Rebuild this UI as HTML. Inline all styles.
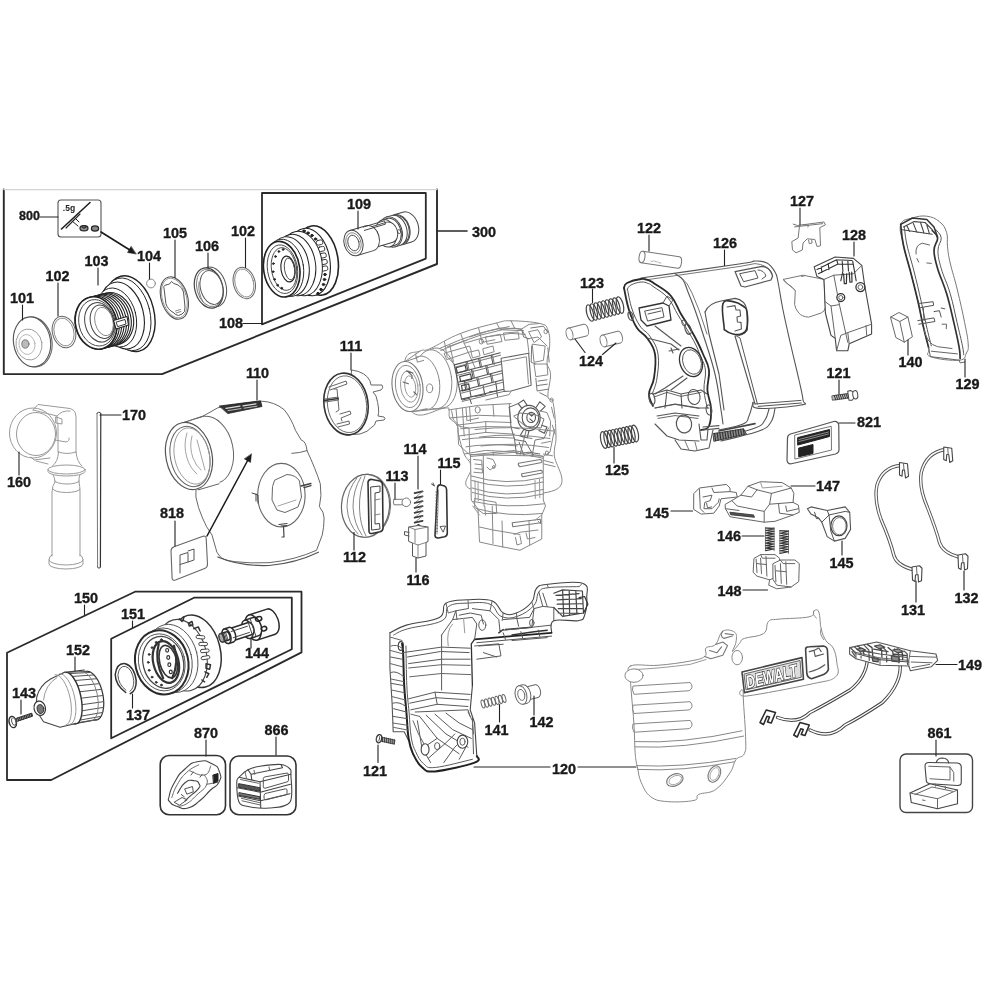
<!DOCTYPE html>
<html><head><meta charset="utf-8"><title>Parts diagram</title>
<style>
html,body{margin:0;padding:0;background:#fff;}
svg{display:block;}
text{font-family:"Liberation Sans",sans-serif;font-weight:bold;fill:#1a1a1a;text-anchor:middle;stroke:#1a1a1a;stroke-width:0.35px;}
path,line,ellipse,rect,circle,polyline,polygon{stroke-linecap:round;stroke-linejoin:round;}
</style></head><body>
<svg width="1000" height="1000" viewBox="0 0 1000 1000">
<defs><filter id="soft" x="0" y="0" width="1000" height="1000" filterUnits="userSpaceOnUse"><feGaussianBlur stdDeviation="0.45"/></filter></defs>
<rect x="0" y="0" width="1000" height="1000" fill="#fff" stroke="none"/>
<g filter="url(#soft)">
<path d="M3.8 189.5 L3.8 374.1 L162 374.1 L437 264 L437 189.5" stroke="#2a2a2a" stroke-width="1.9" fill="none" />
<line x1="3.8" y1="189.6" x2="437" y2="189.6" stroke="#d4d4d4" stroke-width="1.2"/>
<path d="M262 193 L425.8 193 L425.8 258.6 L262 324.4 Z" stroke="#2a2a2a" stroke-width="1.8" fill="none" />
<line x1="437" y1="231" x2="467" y2="231" stroke="#2a2a2a" stroke-width="1.6"/>
<path d="M7 652.8 L135 591.7 L301.5 591.7 L301.5 652.4 L51.2 780 L7 780 Z" stroke="#2a2a2a" stroke-width="1.8" fill="none" />
<path d="M111.2 638.8 L194 597.7 L291.8 597.7 L291.8 649.2 L111.2 738.3 Z" stroke="#2a2a2a" stroke-width="1.8" fill="none" />
<rect x="160.2" y="755.5" width="65.3" height="59.2" rx="9" stroke="#333" stroke-width="1.6" fill="none" />
<rect x="230" y="756" width="66" height="58.7" rx="9" stroke="#333" stroke-width="1.6" fill="none" />
<rect x="900" y="754" width="72.5" height="58.5" rx="6" stroke="#444" stroke-width="1.4" fill="none" />
<rect x="58" y="200" width="43" height="37" rx="3" stroke="#555" stroke-width="1.1" fill="none" />
<text x="69" y="211" font-size="8.5" style="fill:#222;stroke:none">.5g</text>
<line x1="61.5" y1="229" x2="90" y2="202.5" stroke="#222" stroke-width="1.6"/>
<line x1="66" y1="228" x2="80" y2="214" stroke="#222" stroke-width="1.1"/>
<line x1="72" y1="221" x2="78" y2="226" stroke="#222" stroke-width="1"/>
<line x1="75" y1="218" x2="79" y2="222" stroke="#222" stroke-width="1"/>
<ellipse cx="84" cy="228.3" rx="4" ry="2.6" stroke="#222" stroke-width="1.2" fill="#999"/>
<ellipse cx="84" cy="226.8" rx="2.2" ry="1.4" stroke="#222" stroke-width="1" fill="#666"/>
<ellipse cx="95" cy="228.5" rx="3.6" ry="2.6" stroke="#222" stroke-width="1.2" fill="#888"/>
<ellipse cx="33.5" cy="342" rx="18.5" ry="25" stroke="#666" stroke-width="1.1" fill="#fff" transform="rotate(-9 33.5 342)"/>
<ellipse cx="32" cy="341.8" rx="18.5" ry="25" stroke="#555" stroke-width="1.1" fill="#fff" transform="rotate(-9 32 341.8)"/>
<ellipse cx="29" cy="344.5" rx="13" ry="15.5" stroke="#999" stroke-width="0.9" fill="none" transform="rotate(-9 29 344.5)"/>
<ellipse cx="27" cy="344.5" rx="8" ry="10" stroke="#aaa" stroke-width="0.8" fill="none" transform="rotate(-9 27 344.5)"/>
<ellipse cx="25.4" cy="344" rx="3.6" ry="4.2" stroke="#666" stroke-width="0.8" fill="#bbb"/>
<ellipse cx="64" cy="332" rx="11.5" ry="16" stroke="#666" stroke-width="1" fill="none" transform="rotate(-15 64 332)"/>
<ellipse cx="64" cy="332" rx="9.8" ry="14.2" stroke="#888" stroke-width="0.9" fill="none" transform="rotate(-15 64 332)"/>
<ellipse cx="130" cy="313.7" rx="24" ry="38.6" stroke="#222" stroke-width="1.4" fill="#fff" transform="rotate(-14 130 313.7)"/>
<ellipse cx="127" cy="314.3" rx="23" ry="37" stroke="#222" stroke-width="0.9" fill="#fff" transform="rotate(-14 127 314.3)"/>
<ellipse cx="122" cy="315.5" rx="21.5" ry="34" stroke="#222" stroke-width="1.1" fill="#fff" transform="rotate(-14 122 315.5)"/>
<ellipse cx="116" cy="317.5" rx="20" ry="30" stroke="#222" stroke-width="0.9" fill="#fff" transform="rotate(-14 116 317.5)"/>
<ellipse cx="112.8" cy="318.66" rx="20.5" ry="26.5" stroke="#222" stroke-width="1.1" fill="#fff" transform="rotate(-14 112.8 318.66)"/>
<ellipse cx="110.4" cy="319.28" rx="20.5" ry="26.5" stroke="#222" stroke-width="1.1" fill="#fff" transform="rotate(-14 110.4 319.28)"/>
<ellipse cx="108.0" cy="319.9" rx="20.5" ry="26.5" stroke="#222" stroke-width="1.1" fill="#fff" transform="rotate(-14 108.0 319.9)"/>
<ellipse cx="105.6" cy="320.52" rx="20.5" ry="26.5" stroke="#222" stroke-width="1.1" fill="#fff" transform="rotate(-14 105.6 320.52)"/>
<ellipse cx="103.2" cy="321.14" rx="20.5" ry="26.5" stroke="#222" stroke-width="1.1" fill="#fff" transform="rotate(-14 103.2 321.14)"/>
<ellipse cx="100.8" cy="321.76" rx="20.5" ry="26.5" stroke="#222" stroke-width="1.1" fill="#fff" transform="rotate(-14 100.8 321.76)"/>
<ellipse cx="98.4" cy="322.38" rx="20.5" ry="26.5" stroke="#222" stroke-width="1.1" fill="#fff" transform="rotate(-14 98.4 322.38)"/>
<ellipse cx="96.0" cy="323.0" rx="20.5" ry="26.5" stroke="#222" stroke-width="1.1" fill="#fff" transform="rotate(-14 96.0 323.0)"/>
<ellipse cx="96" cy="323" rx="20.5" ry="26.5" stroke="#222" stroke-width="1.7" fill="#fff" transform="rotate(-14 96 323)"/>
<ellipse cx="97" cy="322.8" rx="18" ry="23.5" stroke="#444" stroke-width="0.9" fill="none" transform="rotate(-14 97 322.8)"/>
<ellipse cx="99.5" cy="322.3" rx="14.5" ry="20" stroke="#444" stroke-width="1" fill="none" transform="rotate(-14 99.5 322.3)"/>
<ellipse cx="102" cy="321.8" rx="11.5" ry="17" stroke="#444" stroke-width="1" fill="none" transform="rotate(-14 102 321.8)"/>
<ellipse cx="104" cy="321.5" rx="9" ry="14.5" stroke="#777" stroke-width="0.8" fill="none" transform="rotate(-14 104 321.5)"/>
<path d="M113.5 320.5 L127 316.5 L128.5 325 L116 329 Z" stroke="#222" stroke-width="1.1" fill="#fff" />
<path d="M116.5 322 L125 319.5 L126 324 L118 326.5 Z" stroke="#222" stroke-width="0.9" fill="#fff" />
<ellipse cx="151" cy="283.5" rx="4.4" ry="4.4" stroke="#888" stroke-width="1" fill="none"/>
<ellipse cx="174.4" cy="298" rx="13.2" ry="21.8" stroke="#555" stroke-width="1.1" fill="#fff" transform="rotate(-17 174.4 298)"/>
<ellipse cx="174.4" cy="298" rx="12" ry="20.4" stroke="#888" stroke-width="0.8" fill="none" transform="rotate(-17 174.4 298)"/>
<path d="M164 288.5 Q163 285.5 166 285 L169.5 284 L171.5 281.5 L173.8 283.5 L178 285 Q182.5 287.5 183.5 292 L185 307 Q185.5 312.5 182 314 L178.5 315.5 L175.5 314.5 L174 313 Q167.5 309.5 166 304 Z" stroke="#555" stroke-width="1" fill="none" />
<path d="M175.5 311 L180.5 309.5 M176 313 L181 311.5" stroke="#666" stroke-width="0.8" fill="none" />
<ellipse cx="212.5" cy="287" rx="13.6" ry="20.3" stroke="#555" stroke-width="1" fill="#fff" transform="rotate(-15 212.5 287)"/>
<ellipse cx="208.8" cy="288" rx="14" ry="20.5" stroke="#444" stroke-width="1.2" fill="#fff" transform="rotate(-15 208.8 288)"/>
<ellipse cx="209.5" cy="288" rx="12.6" ry="19" stroke="#777" stroke-width="0.9" fill="none" transform="rotate(-15 209.5 288)"/>
<ellipse cx="211.5" cy="287.5" rx="11" ry="17.2" stroke="#555" stroke-width="1" fill="#fff" transform="rotate(-15 211.5 287.5)"/>
<path d="M199 282 Q197.5 292 203 302" stroke="#777" stroke-width="0.9" fill="none" />
<ellipse cx="244.3" cy="283" rx="10.8" ry="16" stroke="#666" stroke-width="1" fill="none" transform="rotate(-15 244.3 283)"/>
<ellipse cx="244.3" cy="283" rx="9.2" ry="14.4" stroke="#888" stroke-width="0.9" fill="none" transform="rotate(-15 244.3 283)"/>
<g transform="translate(-2 4.5)">
<ellipse cx="319" cy="256" rx="21" ry="35" stroke="#222" stroke-width="1.6" fill="#fff" transform="rotate(-9 319 256)"/>
<ellipse cx="311" cy="257.5" rx="21" ry="34" stroke="#222" stroke-width="1.1" fill="#fff" transform="rotate(-9 311 257.5)"/>
<rect x="318.3" y="235.7" width="6.4" height="4.6" rx="1.6" transform="rotate(-12 321.5 238)" stroke="#333" stroke-width="0.9" fill="#fff"/>
<rect x="320.3" y="242.2" width="6.4" height="4.6" rx="1.6" transform="rotate(-12 323.5 244.5)" stroke="#333" stroke-width="0.9" fill="#fff"/>
<rect x="321.8" y="248.7" width="6.4" height="4.6" rx="1.6" transform="rotate(-12 325 251)" stroke="#333" stroke-width="0.9" fill="#fff"/>
<rect x="322.8" y="255.2" width="6.4" height="4.6" rx="1.6" transform="rotate(-12 326 257.5)" stroke="#333" stroke-width="0.9" fill="#fff"/>
<rect x="323.3" y="261.7" width="6.4" height="4.6" rx="1.6" transform="rotate(-12 326.5 264)" stroke="#333" stroke-width="0.9" fill="#fff"/>
<ellipse cx="306" cy="226.5" rx="1.3" ry="1.1" stroke="#222" stroke-width="1" fill="#222"/>
<ellipse cx="310" cy="228.5" rx="1.3" ry="1.1" stroke="#222" stroke-width="1" fill="#222"/>
<ellipse cx="314" cy="231" rx="1.3" ry="1.1" stroke="#222" stroke-width="1" fill="#222"/>
<ellipse cx="317.5" cy="234.5" rx="1.3" ry="1.1" stroke="#222" stroke-width="1" fill="#222"/>
<ellipse cx="327" cy="270" rx="1.3" ry="1.1" stroke="#222" stroke-width="1" fill="#222"/>
<ellipse cx="326.5" cy="275" rx="1.3" ry="1.1" stroke="#222" stroke-width="1" fill="#222"/>
<ellipse cx="325.5" cy="280" rx="1.3" ry="1.1" stroke="#222" stroke-width="1" fill="#222"/>
<ellipse cx="323" cy="285" rx="1.3" ry="1.1" stroke="#222" stroke-width="1" fill="#222"/>
<ellipse cx="320" cy="289" rx="1.3" ry="1.1" stroke="#222" stroke-width="1" fill="#222"/>
<ellipse cx="303" cy="259" rx="21" ry="32.5" stroke="#222" stroke-width="1" fill="#fff" transform="rotate(-9 303 259)"/>
<ellipse cx="297" cy="260.5" rx="20.5" ry="31" stroke="#222" stroke-width="1" fill="#fff" transform="rotate(-9 297 260.5)"/>
<ellipse cx="291" cy="262" rx="20" ry="30" stroke="#222" stroke-width="1" fill="#fff" transform="rotate(-9 291 262)"/>
<ellipse cx="286.5" cy="263.5" rx="19" ry="29" stroke="#222" stroke-width="0.9" fill="#fff" transform="rotate(-9 286.5 263.5)"/>
<ellipse cx="283.7" cy="264.7" rx="18" ry="28" stroke="#222" stroke-width="1.6" fill="#fff" transform="rotate(-9 283.7 264.7)"/>
<ellipse cx="284.5" cy="264.7" rx="15" ry="24.5" stroke="#444" stroke-width="0.9" fill="none" transform="rotate(-9 284.5 264.7)"/>
<ellipse cx="286" cy="264.5" rx="12.5" ry="21.5" stroke="#444" stroke-width="0.9" fill="none" transform="rotate(-9 286 264.5)"/>
<ellipse cx="290" cy="264.5" rx="7" ry="13" stroke="#222" stroke-width="1.1" fill="#fff" transform="rotate(-9 290 264.5)"/>
<ellipse cx="291.5" cy="264.5" rx="5" ry="11" stroke="#444" stroke-width="0.9" fill="none" transform="rotate(-9 291.5 264.5)"/>
<ellipse cx="283.7" cy="283.7" rx="0.9" ry="0.9" stroke="#222" stroke-width="0.8" fill="#222"/>
<ellipse cx="279.6" cy="280.7" rx="0.9" ry="0.9" stroke="#222" stroke-width="0.8" fill="#222"/>
<ellipse cx="276.6" cy="274.8" rx="0.9" ry="0.9" stroke="#222" stroke-width="0.8" fill="#222"/>
<ellipse cx="275.1" cy="267.2" rx="0.9" ry="0.9" stroke="#222" stroke-width="0.8" fill="#222"/>
<ellipse cx="275.4" cy="259.1" rx="0.9" ry="0.9" stroke="#222" stroke-width="0.8" fill="#222"/>
<ellipse cx="277.5" cy="252.0" rx="0.9" ry="0.9" stroke="#222" stroke-width="0.8" fill="#222"/>
<ellipse cx="280.9" cy="247.0" rx="0.9" ry="0.9" stroke="#222" stroke-width="0.8" fill="#222"/>
<ellipse cx="285.1" cy="245.0" rx="0.9" ry="0.9" stroke="#222" stroke-width="0.8" fill="#222"/>
</g>
<g transform="translate(353.5 243) rotate(-16.5)">
<path d="M47 -15.5 L56 -15.5 A11.16 15.5 0 0 1 56 15.5 L47 15.5 Z" stroke="#444" stroke-width="1" fill="#fff"/>
<ellipse cx="47" cy="0" rx="11.16" ry="15.5" stroke="#444" stroke-width="1" fill="#fff"/>
<path d="M44 -14.5 L47 -14.5 A10.44 14.5 0 0 1 47 14.5 L44 14.5 Z" stroke="#444" stroke-width="1" fill="#fff"/>
<ellipse cx="44" cy="0" rx="10.44" ry="14.5" stroke="#444" stroke-width="1" fill="#fff"/>
<path d="M39 -15.5 L44 -15.5 A11.16 15.5 0 0 1 44 15.5 L39 15.5 Z" stroke="#444" stroke-width="1" fill="#fff"/>
<ellipse cx="39" cy="0" rx="11.16" ry="15.5" stroke="#444" stroke-width="1" fill="#fff"/>
<path d="M34 -14 L39 -14 A10.08 14 0 0 1 39 14 L34 14 Z" stroke="#444" stroke-width="1" fill="#fff"/>
<ellipse cx="34" cy="0" rx="10.08" ry="14" stroke="#444" stroke-width="1" fill="#fff"/>
<path d="M15 -10.5 L38 -10.5 A7.56 10.5 0 0 1 38 10.5 L15 10.5 Z" stroke="#444" stroke-width="1" fill="#fff"/>
<ellipse cx="15" cy="0" rx="7.56" ry="10.5" stroke="#444" stroke-width="1" fill="#fff"/>
<path d="M0 -13 L17 -13 A9.36 13 0 0 1 17 13 L0 13 Z" stroke="#444" stroke-width="1" fill="#fff"/>
<ellipse cx="0" cy="0" rx="9.36" ry="13" stroke="#444" stroke-width="1" fill="#fff"/>
</g>
<g transform="translate(353.5 243) rotate(-16.5)">
<ellipse cx="0" cy="0" rx="5.5" ry="8" stroke="#444" stroke-width="0.9" fill="none"/>
<ellipse cx="0" cy="0" rx="7.5" ry="10.5" stroke="#777" stroke-width="0.8" fill="none"/>
<path d="M14 -12.5 L36 -12.5 L36 -9 L14 -9" stroke="#444" stroke-width="0.9" fill="none" />
<ellipse cx="47" cy="2" rx="1.5" ry="2" stroke="#444" stroke-width="0.8" fill="none"/>
</g>
<ellipse cx="33" cy="433" rx="23.5" ry="25" stroke="#999" stroke-width="1" fill="none"/>
<ellipse cx="36" cy="434" rx="19.5" ry="21.5" stroke="#999" stroke-width="1" fill="none"/>
<path d="M33 410 L38 404.5 L66 408 Q76 408 76 417 L76 452" stroke="#999" stroke-width="1" fill="none" />
<path d="M33 410 L57 416 L57 423" stroke="#999" stroke-width="1" fill="none" />
<path d="M57 416 Q62 410 70 411" stroke="#999" stroke-width="1" fill="none" />
<path d="M56 417 L62 419 L62 424 L56 423 Z" stroke="#999" stroke-width="1" fill="none" />
<line x1="58" y1="424" x2="58" y2="452" stroke="#999" stroke-width="1"/>
<path d="M55 440 L66 442 Q70 441 69 438" stroke="#999" stroke-width="1" fill="none" />
<path d="M31 457 L34 460 L50 458" stroke="#999" stroke-width="1" fill="none" />
<path d="M36 461 L48 464" stroke="#999" stroke-width="1" fill="none" />
<path d="M58.5 452 Q58 462 52.5 466 M76 452 Q77 462 82 466" stroke="#999" stroke-width="1" fill="none" />
<path d="M58.5 452 Q67 455 76 452" stroke="#999" stroke-width="1" fill="none" />
<ellipse cx="66.5" cy="469.5" rx="18.5" ry="4.5" stroke="#999" stroke-width="1" fill="none"/>
<path d="M48 469.5 L48 471.5 A18.5 4.5 0 0 0 85 471.5 L85 469.5" stroke="#999" stroke-width="1" fill="none" />
<path d="M53 474.5 Q55 478 55 482 M80 474.5 Q78.5 478 79 482" stroke="#999" stroke-width="1" fill="none" />
<path d="M55 481 A12 3 0 0 0 79 481" stroke="#999" stroke-width="1" fill="none" />
<path d="M55 482 Q52 486 52 492 L52 556 M79 482 Q80 486 80 492 L80 556" stroke="#999" stroke-width="1" fill="none" />
<path d="M53 489 A13.5 3.5 0 0 0 80 489" stroke="#999" stroke-width="1" fill="none" />
<path d="M52 555 Q49 556 49 560 L49 564 A17 5 0 0 0 83 564 L83 560 Q83 556 80 555" stroke="#999" stroke-width="1" fill="none" />
<path d="M49 560 A17 5 0 0 0 83 560" stroke="#999" stroke-width="1" fill="none" />
<path d="M97 413.5 Q97 412.3 98.8 412.3 Q100.8 412.3 100.8 413.5" stroke="#444" stroke-width="1" fill="none" />
<line x1="97" y1="413.5" x2="97.6" y2="567" stroke="#666" stroke-width="0.9"/>
<line x1="100.8" y1="413.5" x2="100.4" y2="567" stroke="#333" stroke-width="1.2"/>
<path d="M97.6 567 Q99 570 100.4 567" stroke="#444" stroke-width="1" fill="none" />
<path d="M204.4 415.4 L217.7 407.8 Q240 403 261.4 401.2 Q274 401.5 284.2 409.7 Q291 418 295.6 430.6 L301.3 440.1 Q306 441 307 450.6 Q316 470 320.3 483.8 Q322 496 319.4 506.6 Q324 512 324.1 518 Q324 528 322.2 535.1 L316.5 550.3 Q295 560 269 562.7 Q250 563.5 234.8 561.7 Q222 560 219.6 556 Q216 552 215.8 548.4 L212 535.1 Q206 527 202.5 518 Q198 508 195.9 497.1 L196 488 Z" stroke="#666" stroke-width="1" fill="#fff" />
<path d="M291.8 453.4 Q300 453 307 450.6" stroke="#666" stroke-width="1" fill="none" />
<path d="M217.7 557 Q240 566.5 269 565.5 Q296 563 318.4 552.2" stroke="#555" stroke-width="1.2" fill="none" />
<path d="M219.6 406 L260.5 400.8 L262 406.5 L228 413.5 Z" stroke="#222" stroke-width="0.8" fill="#333" />
<path d="M226 408.3 L240 406.2 M243 405.8 L256 403.8" stroke="#ddd" stroke-width="1.2" fill="none" />
<path d="M228 410.6 L241 408.6 M244 408.2 L257 406.2" stroke="#bbb" stroke-width="1" fill="none" />
<path d="M182 423 L204 416 M198 489.5 L219 483.5" stroke="#666" stroke-width="1" fill="none" />
<ellipse cx="210" cy="450" rx="23" ry="34" stroke="#666" stroke-width="1" fill="#fff" transform="rotate(-12 210 450)"/>
<path d="M183 423 L205 416.5 L220 484 L199 490 Z" fill="#fff" stroke="none"/>
<path d="M183.5 422.7 L204.4 415.6 M198.5 489.8 L219 483.8" stroke="#666" stroke-width="1" fill="none" />
<ellipse cx="189" cy="456" rx="23" ry="34" stroke="#555" stroke-width="1.2" fill="#fff" transform="rotate(-12 189 456)"/>
<ellipse cx="190" cy="456.5" rx="19.5" ry="30.5" stroke="#666" stroke-width="1" fill="none" transform="rotate(-12 190 456.5)"/>
<ellipse cx="192" cy="456" rx="17.5" ry="28.5" stroke="#999" stroke-width="0.9" fill="none" transform="rotate(-12 192 456)"/>
<path d="M187 433 Q183 445 187 458 Q190 468 197 474 M192 436 Q189 447 193 458 Q196 466 201 470 M197 440 L205 470" stroke="#999" stroke-width="0.9" fill="none" />
<ellipse cx="281.4" cy="495.2" rx="23.7" ry="31.8" stroke="#666" stroke-width="1.1" fill="#fff"/>
<path d="M275 480 L287 474.5 Q296 475 299.5 481 L301.5 497 L298 507 L285 512.5 L277 510 L272 500 L272.5 487 Z" stroke="#666" stroke-width="1" fill="none" />
<path d="M278 506 L296 500" stroke="#999" stroke-width="0.9" fill="none" />
<path d="M252 493 L258 495 L258 503 M256 494 L256 501" stroke="#444" stroke-width="1" fill="none" />
<path d="M301 486 L311 483.5 M304 487.5 L311 485.5" stroke="#444" stroke-width="1.3" fill="none" />
<path d="M279 524.5 L287 523.5 M281 526 L287 525.5 M283.5 526 L284 537 L282 537" stroke="#444" stroke-width="1.2" fill="none" />
<path d="M171 551 Q171 547.8 174 546.7 L203 536.3 Q206 535.4 206.2 538.5 L207.5 564.5 Q207.5 567.5 204.6 568.6 L175.5 580 Q172.2 581 172.1 578 Z" stroke="#666" stroke-width="1.1" fill="#fff" />
<path d="M180 573 L180 555 L188 552.5 L188 562 L194 560 L194 549 L188 551" stroke="#555" stroke-width="1" fill="none" />
<path d="M188 562 L180 564.5" stroke="#555" stroke-width="1" fill="none" />
<g transform="translate(385 310) scale(0.18000)">
<path d="M110.0 287.0 C119.0 219.6 167.0 242.4 195.0 228.0 C223.0 213.6 205.0 234.6 250.0 215.0 C295.0 195.4 346.0 158.6 420.0 130.0 C494.0 101.4 564.0 86.0 620.0 72.0 C676.0 58.0 652.0 59.4 700.0 60.0 C748.0 60.6 819.0 65.0 860.0 75.0 C901.0 85.0 894.0 85.0 905.0 110.0 C916.0 135.0 916.0 164.0 915.0 200.0 C914.0 236.0 899.0 258.0 900.0 290.0 C901.0 322.0 919.0 322.0 920.0 360.0 C921.0 398.0 902.0 448.0 905.0 480.0 C908.0 512.0 926.0 476.0 935.0 520.0 C944.0 564.0 949.0 644.0 950.0 700.0 C951.0 756.0 941.0 740.0 940.0 800.0 C939.0 860.0 1035.0 960.0 945.0 1000.0 C855.0 1040.0 583.0 1026.0 490.0 1000.0 C397.0 974.0 490.0 910.0 480.0 870.0 C470.0 830.0 454.0 834.0 440.0 800.0 C426.0 766.0 418.0 732.0 410.0 700.0 C402.0 668.0 410.0 660.0 400.0 640.0 C390.0 620.0 369.0 617.0 360.0 600.0 C351.0 583.0 361.0 566.0 355.0 555.0 C349.0 544.0 371.0 543.0 330.0 545.0 C289.0 547.0 194.0 616.6 150.0 565.0 C106.0 513.4 101.0 354.4 110.0 287.0 Z" stroke="#888" stroke-width="1" fill="#fff" vector-effect="non-scaling-stroke"/>
<ellipse cx="300" cy="378" rx="100" ry="168" stroke="#888" stroke-width="1" fill="#fff" vector-effect="non-scaling-stroke" transform="rotate(-8 300 378)"/>
<ellipse cx="270" cy="385" rx="100" ry="165" stroke="#888" stroke-width="1" fill="#fff" vector-effect="non-scaling-stroke" transform="rotate(-8 270 385)"/>
<path d="M195 228 L110 287 M330 545 L150 565" stroke="#888" stroke-width="1" fill="none" vector-effect="non-scaling-stroke"/>
<ellipse cx="215" cy="405" rx="88" ry="150" stroke="#888" stroke-width="1" fill="#fff" vector-effect="non-scaling-stroke" transform="rotate(-8 215 405)"/>
<path d="M112 287 L190 262 L230 545 L150 565 Z" stroke="none" stroke-width="1" fill="#fff" vector-effect="non-scaling-stroke"/>
<path d="M112 287 L185 262 M150 565 L235 548" stroke="#888" stroke-width="1" fill="none" vector-effect="non-scaling-stroke"/>
<ellipse cx="125" cy="425" rx="85" ry="140" stroke="#777" stroke-width="1.1" fill="#fff" vector-effect="non-scaling-stroke" transform="rotate(-8 125 425)"/>
<ellipse cx="127" cy="425" rx="68" ry="118" stroke="#888" stroke-width="1" fill="none" vector-effect="non-scaling-stroke" transform="rotate(-8 127 425)"/>
<ellipse cx="135" cy="425" rx="48" ry="88" stroke="#999" stroke-width="1" fill="none" vector-effect="non-scaling-stroke" transform="rotate(-8 135 425)"/>
<ellipse cx="140" cy="425" rx="30" ry="60" stroke="#999" stroke-width="1" fill="none" vector-effect="non-scaling-stroke" transform="rotate(-8 140 425)"/>
<path d="M130 345 L150 365 L150 380 M100 400 L130 410 M160 455 L175 470 M120 340 L155 350" stroke="#666" stroke-width="1.2" fill="none" vector-effect="non-scaling-stroke"/>
<ellipse cx="248" cy="435" rx="17" ry="24" stroke="#888" stroke-width="1" fill="none" vector-effect="non-scaling-stroke"/>
<path d="M170 245 L180 290 L215 280" stroke="#888" stroke-width="1" fill="none" vector-effect="non-scaling-stroke"/>
<path d="M300 215 L420 165 L520 130 L640 100 L760 105 M420 130 L440 185 L500 320 M520 100 L540 180 M440 185 L560 150 L700 130 L780 135 M540 180 L610 165" stroke="#888" stroke-width="1" fill="none" vector-effect="non-scaling-stroke"/>
<path d="M330 240 L470 200 L480 230 L345 275 Z" stroke="#888" stroke-width="1" fill="none" vector-effect="non-scaling-stroke"/>
<ellipse cx="535" cy="175" rx="12" ry="14" stroke="#888" stroke-width="1" fill="none" vector-effect="non-scaling-stroke"/>
<path d="M620 72 L640 110 L720 100 L760 110 L790 160 L800 240 M700 60 L720 100 M760 105 L800 80 L860 75 M790 160 L850 150 L900 200" stroke="#888" stroke-width="1" fill="none" vector-effect="non-scaling-stroke"/>
<path d="M800 120 L850 110 L870 150 L830 180 Z M820 190 L890 200 L880 280 L830 290 Z M830 300 L900 300 L905 360 L840 370 Z" stroke="#888" stroke-width="1" fill="none" vector-effect="non-scaling-stroke"/>
<ellipse cx="893" cy="120" rx="10" ry="12" stroke="#888" stroke-width="1" fill="none" vector-effect="non-scaling-stroke"/>
<ellipse cx="925" cy="500" rx="9" ry="11" stroke="#888" stroke-width="1" fill="none" vector-effect="non-scaling-stroke"/>
<ellipse cx="900" cy="795" rx="9" ry="12" stroke="#888" stroke-width="1" fill="none" vector-effect="non-scaling-stroke"/>
<path d="M385 305 L640 238 M400 350 L645 288 M410 400 L650 338 M418 450 L655 388 M425 495 L660 440" stroke="#555" stroke-width="1.1" fill="none" vector-effect="non-scaling-stroke"/>
<path d="M385 305 L425 495 M450 288 L460 335 M520 270 L530 318 M590 252 L600 300 M480 330 L490 378 M560 310 L570 358 M440 392 L448 440 M510 375 L520 422 M585 355 L595 402 M470 438 L478 482 M545 420 L553 465 M615 400 L622 447" stroke="#555" stroke-width="1.1" fill="none" vector-effect="non-scaling-stroke"/>
<path d="M395 320 L445 307 L452 337 L402 350 Z M415 370 L475 355 L482 385 L420 398 Z M425 420 L465 410 L470 440 L430 450 Z" stroke="#444" stroke-width="1.2" fill="none" vector-effect="non-scaling-stroke"/>
<path d="M430 500 L470 490 L480 520 M500 480 L560 470 M580 455 L620 450 L625 480" stroke="#555" stroke-width="1" fill="none" vector-effect="non-scaling-stroke"/>
<path d="M388 318 L642 251 M403 363 L647 301 M413 413 L652 351 M421 463 L657 401 M428 508 L662 452" stroke="#777" stroke-width="1" fill="none" vector-effect="non-scaling-stroke"/>
<path d="M458 290 L468 337 M528 272 L538 320 M598 254 L608 302 M488 332 L498 380 M568 312 L578 360 M448 394 L456 442 M518 377 L528 424 M593 357 L603 404" stroke="#777" stroke-width="1" fill="none" vector-effect="non-scaling-stroke"/>
<path d="M310 225 L430 175 L530 140 L650 110 L770 115 M345 205 L455 168 M470 150 L560 122 M570 118 L690 92 M330 175 L345 260 L385 300 M360 195 L380 285" stroke="#888" stroke-width="1" fill="none" vector-effect="non-scaling-stroke"/>
<path d="M480 232 L520 222 L528 255 L488 266 Z M545 215 L600 200 L606 232 L552 248 Z M560 150 L640 135 L650 175 L570 190 Z M660 128 L740 122 L745 160 L668 168 Z" stroke="#888" stroke-width="1" fill="none" vector-effect="non-scaling-stroke"/>
<path d="M810 100 L880 90 L905 125 M815 200 L812 290 L835 300 M905 210 L912 290 M838 380 L845 450 L905 440 M850 395 L900 388 M845 420 L902 412 M860 460 L900 480 M760 110 L770 150 L800 160" stroke="#777" stroke-width="1" fill="none" vector-effect="non-scaling-stroke"/>
<path d="M370 560 L380 610 L420 650 M395 552 L402 640 M450 545 L455 615 L520 600 M420 660 Q560 640 700 650 M430 720 Q560 700 720 712 M450 760 Q570 740 735 755 M470 830 Q600 812 750 825 M600 528 L605 590" stroke="#888" stroke-width="1" fill="none" vector-effect="non-scaling-stroke"/>
<path d="M860 560 L900 570 L920 620 L915 700 M870 740 L920 730 M880 800 L930 810 M860 830 L935 850 M925 540 L940 600 M930 640 L945 690" stroke="#888" stroke-width="1" fill="none" vector-effect="non-scaling-stroke"/>
<path d="M645 268 L798 240 L812 418 L790 425 L700 450 L662 452 Z" stroke="#666" stroke-width="1.1" fill="#fff" vector-effect="non-scaling-stroke"/>
<path d="M655 285 L785 260 L797 410 M700 450 L690 470 L560 500" stroke="#888" stroke-width="1" fill="none" vector-effect="non-scaling-stroke"/>
<path d="M355 555 L400 548 L520 530 L700 520 M360 600 L520 585 L690 590 M470 540 L475 620 M430 545 L440 700" stroke="#888" stroke-width="1" fill="none" vector-effect="non-scaling-stroke"/>
<ellipse cx="515" cy="555" rx="14" ry="18" stroke="#888" stroke-width="1" fill="none" vector-effect="non-scaling-stroke"/>
<path d="M400 640 L560 620 L700 625 M410 700 L560 680 L720 690 M440 800 L560 780 L740 790 M480 870 L600 850 L760 860" stroke="#888" stroke-width="1" fill="none" vector-effect="non-scaling-stroke"/>
<path d="M560 620 L560 680 M600 790 L610 850 M690 520 L700 625" stroke="#888" stroke-width="1" fill="none" vector-effect="non-scaling-stroke"/>
<ellipse cx="600" cy="875" rx="10" ry="14" stroke="#888" stroke-width="1" fill="none" vector-effect="non-scaling-stroke"/>
<ellipse cx="800" cy="600" rx="62" ry="70" stroke="#555" stroke-width="1.2" fill="#fff" vector-effect="non-scaling-stroke"/>
<ellipse cx="808" cy="598" rx="46" ry="54" stroke="#555" stroke-width="1.1" fill="none" vector-effect="non-scaling-stroke"/>
<ellipse cx="812" cy="597" rx="24" ry="28" stroke="#555" stroke-width="1.1" fill="none" vector-effect="non-scaling-stroke"/>
<path d="M760 545 L740 520 L770 500 L790 530 M840 540 L860 510 L890 535 L865 560 M870 640 L900 650 L885 685 L855 670 M770 665 L750 700 L790 710 L800 670 M800 575 L815 590 L830 575 M805 605 L822 620" stroke="#555" stroke-width="1.1" fill="none" vector-effect="non-scaling-stroke"/>
<path d="M690 540 L740 520 M690 540 L700 650 L745 660 M700 650 L720 720 L780 730 M720 720 L730 800 L800 790 L860 800 M780 730 L820 800 L840 870 M745 735 L790 860" stroke="#666" stroke-width="1" fill="none" vector-effect="non-scaling-stroke"/>
<path d="M740 870 L860 850 L945 870 M760 900 L850 885 L850 930 L770 940 Z" stroke="#888" stroke-width="1" fill="none" vector-effect="non-scaling-stroke"/>
</g>
<g transform="translate(430 410) scale(0.15000)">
<path d="M270 300 L275 600 L320 660 L330 880 L420 900 L600 935 L745 860 L745 700 L770 640 L755 600 L755 310 Z" stroke="#888" stroke-width="1" fill="#fff" vector-effect="non-scaling-stroke"/>
<path d="M185 100 L190 230 L265 300 L560 270 L755 310 L800 280 L830 130" stroke="#888" stroke-width="1" fill="none" vector-effect="non-scaling-stroke"/>
<path d="M275 440 Q500 510 755 450 M278 470 Q500 540 755 480 M280 520 Q500 595 755 530 M282 550 Q500 620 757 560 M290 610 Q500 660 765 625 M320 660 Q520 715 745 690" stroke="#888" stroke-width="1" fill="none" vector-effect="non-scaling-stroke"/>
<path d="M590 355 L735 330 Q750 335 745 350 L600 378 Q585 372 590 355 Z M612 425 L740 402 Q752 407 747 420 L620 445 Q607 440 612 425 Z M548 752 L735 728 L738 752 L552 778 Z" stroke="#777" stroke-width="1.1" fill="none" vector-effect="non-scaling-stroke"/>
<path d="M355 300 L360 640 M300 590 L350 600 L440 615 L445 690 L355 690 L300 650 Z M365 640 L370 700 M415 640 L420 890" stroke="#888" stroke-width="1" fill="none" vector-effect="non-scaling-stroke"/>
<path d="M380 320 L420 330 L440 370 L400 400 L380 380" stroke="#888" stroke-width="1" fill="none" vector-effect="non-scaling-stroke"/>
<ellipse cx="425" cy="380" rx="8" ry="11" stroke="#888" stroke-width="1" fill="none" vector-effect="non-scaling-stroke"/>
<path d="M560 830 L600 815 L720 800 M570 850 L580 900 L610 890 L600 840 M640 820 L650 860 L700 850 M720 740 L740 760" stroke="#888" stroke-width="1" fill="none" vector-effect="non-scaling-stroke"/>
<path d="M290 330 L345 335 L350 420 L292 415 M300 360 L345 365 M300 390 L345 395" stroke="#888" stroke-width="1" fill="none" vector-effect="non-scaling-stroke"/>
<path d="M270 310 L560 282 L755 322 M200 110 L260 120 L265 290 M300 130 Q560 100 820 140 M330 180 Q550 150 800 190 M340 240 Q555 212 790 250" stroke="#888" stroke-width="1" fill="none" vector-effect="non-scaling-stroke"/>
<path d="M600 300 L640 140 M680 310 L700 200 L760 190 L790 120 M620 180 L680 190 M560 40 L600 20 L700 30 L760 60 L740 120 L640 110 Z" stroke="#777" stroke-width="1" fill="none" vector-effect="non-scaling-stroke"/>
<path d="M330 780 L420 800 L600 830 M480 740 L485 915 M660 740 L665 900" stroke="#888" stroke-width="1" fill="none" vector-effect="non-scaling-stroke"/>
<path d="M285 640 L330 700 M745 700 L700 735 M300 470 L302 600 M320 475 L322 605 M700 470 L702 590 M730 460 L732 585" stroke="#999" stroke-width="1" fill="none" vector-effect="non-scaling-stroke"/>
</g>
<path d="M352 370 Q366 372 370 381 L371 385 L382 385 Q384 388 381 390 L373 392 L376 396 Q380 410 378 416 L384 417 Q386 419 384 420 L376 421 Q375 426 372 427 Q368 432 360 434 L346 435 Z" stroke="#666" stroke-width="1" fill="#fff" />
<ellipse cx="346" cy="404" rx="22" ry="31" stroke="#333" stroke-width="1.6" fill="#fff" transform="rotate(-8 346 404)"/>
<ellipse cx="347" cy="404.2" rx="19.5" ry="28.5" stroke="#666" stroke-width="0.9" fill="none" transform="rotate(-8 347 404.2)"/>
<path d="M329 387 L346 381 L347 384 L330 390 M325 399 L338 397 L338.5 400 L325 402 Z M334 389 L337 389 L339 410 L336 412 M340 414 L350 411 L351 414 L341 418 L342 421 M337 424 L349 421 L349.5 424 L338 427" stroke="#666" stroke-width="1" fill="none" />
<line x1="324.5" y1="400.5" x2="338" y2="398.5" stroke="#333" stroke-width="1.6"/>
<ellipse cx="366.5" cy="505.8" rx="24" ry="31.5" stroke="#777" stroke-width="1.1" fill="#fff" transform="rotate(4 366.5 505.8)"/>
<ellipse cx="365.5" cy="505.8" rx="24" ry="31.5" stroke="#666" stroke-width="1.2" fill="#fff" transform="rotate(4 365.5 505.8)"/>
<path d="M357 478 Q347 490 347 507 Q348 524 358 534 M361 477 Q353 490 353 507 Q354 524 362 535 M365 476 Q359 492 359.5 508 Q360 525 366 536" stroke="#777" stroke-width="0.9" fill="none" />
<path d="M368 482 Q369 479 372 479.5 L380 481 Q382.5 482 382.5 485 L383 528 Q383 531 380 531.8 L372 533.5 Q369 534 369 531 Z" stroke="#333" stroke-width="1.6" fill="#fff" />
<path d="M371 487 L380 486 L380 492 L375 493 L375 524 L379.5 523.5 L380 529 L372 530 Z" stroke="#444" stroke-width="1" fill="none" />
<path d="M375 500 L380 499 M375 515 L380 514" stroke="#777" stroke-width="0.9" fill="none" />
<path d="M394 499.3 L403 499.3 L403 504.8 L394 504.8 Q392.5 502 394 499.3" stroke="#777" stroke-width="1" fill="#fff" />
<ellipse cx="406.3" cy="502.3" rx="4.3" ry="4.3" stroke="#777" stroke-width="1" fill="#fff"/>
<line x1="414.6" y1="493.2" x2="422.6" y2="491.4" stroke="#3a3a3a" stroke-width="1.7"/>
<line x1="422.6" y1="491.4" x2="414.6" y2="498.1" stroke="#777" stroke-width="0.8"/>
<line x1="414.6" y1="498.09999999999997" x2="422.6" y2="496.29999999999995" stroke="#3a3a3a" stroke-width="1.7"/>
<line x1="422.6" y1="496.29999999999995" x2="414.6" y2="503.0" stroke="#777" stroke-width="0.8"/>
<line x1="414.6" y1="503.0" x2="422.6" y2="501.2" stroke="#3a3a3a" stroke-width="1.7"/>
<line x1="422.6" y1="501.2" x2="414.6" y2="507.90000000000003" stroke="#777" stroke-width="0.8"/>
<line x1="414.6" y1="507.9" x2="422.6" y2="506.09999999999997" stroke="#3a3a3a" stroke-width="1.7"/>
<line x1="422.6" y1="506.09999999999997" x2="414.6" y2="512.8" stroke="#777" stroke-width="0.8"/>
<line x1="414.6" y1="512.8000000000001" x2="422.6" y2="511.0" stroke="#3a3a3a" stroke-width="1.7"/>
<line x1="422.6" y1="511.0" x2="414.6" y2="517.7" stroke="#777" stroke-width="0.8"/>
<line x1="414.6" y1="517.7" x2="422.6" y2="515.9" stroke="#3a3a3a" stroke-width="1.7"/>
<line x1="422.6" y1="515.9" x2="414.6" y2="522.6" stroke="#777" stroke-width="0.8"/>
<line x1="414.6" y1="522.6" x2="422.6" y2="520.8" stroke="#3a3a3a" stroke-width="1.7"/>
<path d="M415 527.5 L418.5 524.5 L422 527.5" stroke="#333" stroke-width="1.2" fill="none" />
<path d="M409 527 L418 525.5 L428 527 L428 541.5 L426 542.5 L426 556 L418 558 L412.5 556 L412.5 543 L409 541.5 Z" stroke="#555" stroke-width="1" fill="#fff" />
<path d="M409 527 L415 529.5 L428 527 M415 529.5 L415 543 M412.5 543 L418 545 L426 542.5 M418 545 L418 558" stroke="#777" stroke-width="0.9" fill="none" />
<path d="M409 532.5 L404.5 531.5 L404.5 535 L409 536" stroke="#555" stroke-width="1" fill="none" />
<path d="M437.5 487.5 Q438 484.5 441 485 L444.5 486 Q446.5 487 446.6 489.5 L447.3 533 Q447.3 536 444.5 536.8 L438.5 538 Q435.3 538.3 435 535.5 Z" stroke="#333" stroke-width="1.6" fill="#fff" />
<path d="M438.6 490 L437 534" stroke="#777" stroke-width="0.8" fill="none" />
<path d="M440.5 526.5 L445.5 526 L443.3 531.8 Z" stroke="#444" stroke-width="0.9" fill="none" />
<path d="M431.5 484 L434.5 486 L433 483" stroke="#444" stroke-width="1" fill="none" />
<line x1="435.6" y1="492" x2="437.5" y2="492.5" stroke="#555" stroke-width="0.7"/>
<line x1="435.6" y1="495" x2="437.5" y2="495.5" stroke="#555" stroke-width="0.7"/>
<line x1="435.6" y1="498" x2="437.5" y2="498.5" stroke="#555" stroke-width="0.7"/>
<line x1="435.6" y1="501" x2="437.5" y2="501.5" stroke="#555" stroke-width="0.7"/>
<line x1="435.6" y1="504" x2="437.5" y2="504.5" stroke="#555" stroke-width="0.7"/>
<line x1="435.6" y1="507" x2="437.5" y2="507.5" stroke="#555" stroke-width="0.7"/>
<line x1="435.6" y1="510" x2="437.5" y2="510.5" stroke="#555" stroke-width="0.7"/>
<line x1="435.6" y1="513" x2="437.5" y2="513.5" stroke="#555" stroke-width="0.7"/>
<line x1="435.6" y1="516" x2="437.5" y2="516.5" stroke="#555" stroke-width="0.7"/>
<line x1="435.6" y1="519" x2="437.5" y2="519.5" stroke="#555" stroke-width="0.7"/>
<line x1="435.6" y1="522" x2="437.5" y2="522.5" stroke="#555" stroke-width="0.7"/>
<line x1="435.6" y1="525" x2="437.5" y2="525.5" stroke="#555" stroke-width="0.7"/>
<line x1="435.6" y1="528" x2="437.5" y2="528.5" stroke="#555" stroke-width="0.7"/>
<line x1="435.6" y1="531" x2="437.5" y2="531.5" stroke="#555" stroke-width="0.7"/>
<g transform="translate(615 250) scale(0.20000)">
<path d="M45 190 L60 165 L130 140 L620 70 L700 55 Q770 60 800 110 L815 160 L840 300 L880 480 L920 650 L940 750 L930 775 L770 795 L750 850 L700 890 L520 940 L480 1000 L330 1000 L260 930 L200 870 L190 780 L170 720 L195 640 L200 520 L160 440 L110 390 L70 300 Z" stroke="none" stroke-width="1" fill="#fff" vector-effect="non-scaling-stroke"/>
<path d="M130.0 140.0 C228.0 126.0 506.0 87.0 620.0 70.0 C734.0 53.0 672.0 56.0 700.0 55.0 C728.0 54.0 740.0 54.0 760.0 65.0 C780.0 76.0 789.0 91.0 800.0 110.0 C811.0 129.0 807.0 122.0 815.0 160.0 C823.0 198.0 827.0 236.0 840.0 300.0 C853.0 364.0 864.0 410.0 880.0 480.0 C896.0 550.0 908.0 596.0 920.0 650.0 C932.0 704.0 938.0 725.0 940.0 750.0 C942.0 775.0 974.0 766.6 930.0 775.0 C886.0 783.4 768.0 794.6 720.0 792.0 C672.0 789.4 696.0 768.0 690.0 762.0" stroke="#555" stroke-width="1.1" fill="none" vector-effect="non-scaling-stroke"/>
<path d="M150 150 L625 82 L700 68 Q760 72 785 115" stroke="#777" stroke-width="1" fill="none" vector-effect="non-scaling-stroke"/>
<path d="M300.0 118.0 C308.0 124.4 327.0 131.6 340.0 150.0 C353.0 168.4 353.0 180.0 365.0 210.0 C377.0 240.0 385.0 258.0 400.0 300.0 C415.0 342.0 420.0 356.0 440.0 420.0 C460.0 484.0 482.0 544.0 500.0 620.0 C518.0 696.0 522.0 750.0 530.0 800.0 C538.0 850.0 538.0 856.0 540.0 870.0" stroke="#555" stroke-width="1.1" fill="none" vector-effect="non-scaling-stroke"/>
<path d="M330 135 Q365 165 385 215 L420 300 L460 420" stroke="#777" stroke-width="1" fill="none" vector-effect="non-scaling-stroke"/>
<path d="M450 310 Q470 265 530 255 L600 242 Q650 250 660 300 L662 400 Q640 430 600 430 L700 770" stroke="#555" stroke-width="1.1" fill="none" vector-effect="non-scaling-stroke"/>
<path d="M450 310 L470 420 L520 620 L545 800" stroke="#555" stroke-width="1.1" fill="none" vector-effect="non-scaling-stroke"/>
<path d="M610 432 L625 440 L712 770 M700 770 L930 752 M716 782 L932 765" stroke="#555" stroke-width="1" fill="none" vector-effect="non-scaling-stroke"/>
<path d="M540.0 268.0 C549.0 243.6 570.0 255.6 590.0 258.0 C610.0 260.4 626.0 269.6 640.0 280.0 C654.0 290.4 656.4 287.0 660.0 310.0 C663.6 333.0 664.0 373.0 658.0 395.0 C652.0 417.0 643.6 415.0 630.0 420.0 C616.4 425.0 605.6 423.6 590.0 420.0 C574.4 416.4 561.0 410.0 552.0 402.0 C543.0 394.0 547.4 406.8 545.0 380.0 C542.6 353.2 531.0 292.4 540.0 268.0 Z" stroke="#333" stroke-width="1.6" fill="none" vector-effect="non-scaling-stroke"/>
<path d="M560 285 L600 278 L605 300 L625 300 L628 330 L610 335 L612 360 L630 362 L632 395 L600 405" stroke="#555" stroke-width="1.1" fill="none" vector-effect="non-scaling-stroke"/>
<path d="M600 108 L735 82 Q775 85 788 130 L780 150 L650 185 L630 180 Z" stroke="#555" stroke-width="1.2" fill="none" vector-effect="non-scaling-stroke"/>
<path d="M625 118 L700 103 L715 140 L645 158 Z M715 100 Q745 100 755 130 L735 145" stroke="#555" stroke-width="1" fill="none" vector-effect="non-scaling-stroke"/>
<path d="M770.0 795.0 C766.0 806.0 764.0 831.0 750.0 850.0 C736.0 869.0 746.0 872.0 700.0 890.0 C654.0 908.0 556.0 930.0 520.0 940.0 M800.0 792.0 C796.0 805.6 796.0 837.4 780.0 860.0 C764.0 882.6 770.0 886.0 720.0 905.0 C670.0 924.0 568.0 945.0 530.0 955.0 M690.0 762.0 C686.0 775.6 680.0 808.4 670.0 830.0 C660.0 851.6 670.0 856.0 640.0 870.0 C610.0 884.0 544.0 894.0 520.0 900.0" stroke="#555" stroke-width="1.1" fill="none" vector-effect="non-scaling-stroke"/>
<path d="M492 918 L643 894 L657 920 L496 956 Z" stroke="#444" stroke-width="1" fill="#8a8a8a" vector-effect="non-scaling-stroke"/>
<path d="M498 917 L503 954" stroke="#333" stroke-width="1.1" fill="none" vector-effect="non-scaling-stroke"/>
<path d="M511 915 L516 951" stroke="#333" stroke-width="1.1" fill="none" vector-effect="non-scaling-stroke"/>
<path d="M524 913 L529 948" stroke="#333" stroke-width="1.1" fill="none" vector-effect="non-scaling-stroke"/>
<path d="M537 911 L542 945" stroke="#333" stroke-width="1.1" fill="none" vector-effect="non-scaling-stroke"/>
<path d="M550 909 L555 942" stroke="#333" stroke-width="1.1" fill="none" vector-effect="non-scaling-stroke"/>
<path d="M563 906 L568 940" stroke="#333" stroke-width="1.1" fill="none" vector-effect="non-scaling-stroke"/>
<path d="M576 904 L581 937" stroke="#333" stroke-width="1.1" fill="none" vector-effect="non-scaling-stroke"/>
<path d="M589 902 L594 934" stroke="#333" stroke-width="1.1" fill="none" vector-effect="non-scaling-stroke"/>
<path d="M602 900 L607 931" stroke="#333" stroke-width="1.1" fill="none" vector-effect="non-scaling-stroke"/>
<path d="M615 898 L620 928" stroke="#333" stroke-width="1.1" fill="none" vector-effect="non-scaling-stroke"/>
<path d="M628 896 L633 925" stroke="#333" stroke-width="1.1" fill="none" vector-effect="non-scaling-stroke"/>
<path d="M641 894 L646 922" stroke="#333" stroke-width="1.1" fill="none" vector-effect="non-scaling-stroke"/>
<path d="M520 905 L700 868" stroke="#444" stroke-width="1.6" fill="none" vector-effect="non-scaling-stroke"/>
<path d="M200 790 L300 772 L420 792 M215 842 L300 828 L415 842 M195 735 L260 712 L330 732 L430 712" stroke="#666" stroke-width="1" fill="none" vector-effect="non-scaling-stroke"/>
<path d="M45.0 190.0 C48.0 185.0 43.0 174.0 60.0 165.0 C77.0 156.0 108.0 147.6 130.0 145.0 C152.0 142.4 156.0 147.0 170.0 152.0 C184.0 157.0 178.0 154.4 200.0 170.0 C222.0 185.6 254.0 200.0 280.0 230.0 C306.0 260.0 310.0 286.0 330.0 320.0 C350.0 354.0 363.0 371.0 380.0 400.0 C397.0 429.0 403.0 441.0 415.0 465.0 C427.0 489.0 429.0 493.0 440.0 520.0 C451.0 547.0 465.6 564.0 470.0 600.0 C474.4 636.0 460.0 662.0 462.0 700.0 C464.0 738.0 478.4 754.0 480.0 790.0 C481.6 826.0 480.0 858.0 470.0 880.0 C460.0 902.0 438.0 896.0 430.0 900.0" stroke="#2a2a2a" stroke-width="1.8" fill="none" vector-effect="non-scaling-stroke"/>
<path d="M45.0 190.0 C50.0 212.0 57.0 260.0 70.0 300.0 C83.0 340.0 92.0 362.0 110.0 390.0 C128.0 418.0 142.0 414.0 160.0 440.0 C178.0 466.0 193.0 480.0 200.0 520.0 C207.0 560.0 201.0 600.0 195.0 640.0 C189.0 680.0 171.0 692.0 170.0 720.0 C169.0 748.0 186.0 768.0 190.0 780.0" stroke="#2a2a2a" stroke-width="1.8" fill="none" vector-effect="non-scaling-stroke"/>
<path d="M62.0 195.0 C65.6 191.0 66.4 182.0 80.0 175.0 C93.6 168.0 113.0 161.6 130.0 160.0 C147.0 158.4 153.0 162.6 165.0 167.0 C177.0 171.4 170.0 167.4 190.0 182.0 C210.0 196.6 240.0 211.4 265.0 240.0 C290.0 268.6 295.0 292.0 315.0 325.0 C335.0 358.0 347.6 376.0 365.0 405.0 C382.4 434.0 390.0 446.0 402.0 470.0 C414.0 494.0 415.0 499.0 425.0 525.0 C435.0 551.0 448.0 565.0 452.0 600.0 C456.0 635.0 443.0 662.0 445.0 700.0 C447.0 738.0 458.6 772.0 462.0 790.0" stroke="#555" stroke-width="1" fill="none" vector-effect="non-scaling-stroke"/>
<path d="M62.0 195.0 C66.6 215.0 72.4 258.0 85.0 295.0 C97.6 332.0 107.0 352.6 125.0 380.0 C143.0 407.4 157.0 404.0 175.0 432.0 C193.0 460.0 208.0 478.4 215.0 520.0 C222.0 561.6 215.4 601.0 210.0 640.0 C204.6 679.0 192.4 700.0 188.0 715.0" stroke="#555" stroke-width="1" fill="none" vector-effect="non-scaling-stroke"/>
<path d="M120 290 L240 265 L270 280 L280 350 L160 380 L130 350 Z" stroke="#333" stroke-width="1.3" fill="none" vector-effect="non-scaling-stroke"/>
<path d="M150 305 L235 288 L245 335 L165 355 Z M165 320 L230 305 M240 265 L260 230 L290 250 L270 280" stroke="#555" stroke-width="1" fill="none" vector-effect="non-scaling-stroke"/>
<ellipse cx="78" cy="330" rx="12" ry="22" stroke="#555" stroke-width="1.2" fill="none" vector-effect="non-scaling-stroke" transform="rotate(-15 78 330)"/>
<ellipse cx="365" cy="395" rx="14" ry="28" stroke="#555" stroke-width="1.2" fill="none" vector-effect="non-scaling-stroke" transform="rotate(-20 365 395)"/>
<ellipse cx="345" cy="365" rx="10" ry="16" stroke="#555" stroke-width="1" fill="none" vector-effect="non-scaling-stroke" transform="rotate(-20 345 365)"/>
<ellipse cx="380" cy="560" rx="55" ry="75" stroke="#333" stroke-width="1.3" fill="#fff" vector-effect="non-scaling-stroke" transform="rotate(-20 380 560)"/>
<ellipse cx="385" cy="560" rx="45" ry="63" stroke="#555" stroke-width="1" fill="none" vector-effect="non-scaling-stroke" transform="rotate(-20 385 560)"/>
<path d="M270 505 L320 495 M280 490 L290 515 M160 440 L280 470 L320 500 M340 630 L250 690 L200 720 M360 640 L280 700 M200 380 L330 480" stroke="#555" stroke-width="1.1" fill="none" vector-effect="non-scaling-stroke"/>
<path d="M190 720 L260 700 L330 720 L430 700 L460 720 M200 790 L300 770 L420 790 L470 790 M210 830 L300 815 L420 830 M260 700 L250 790 M330 720 L335 790" stroke="#555" stroke-width="1.1" fill="none" vector-effect="non-scaling-stroke"/>
<ellipse cx="185" cy="745" rx="14" ry="28" stroke="#555" stroke-width="1.2" fill="none" vector-effect="non-scaling-stroke" transform="rotate(-10 185 745)"/>
<ellipse cx="395" cy="735" rx="30" ry="38" stroke="#555" stroke-width="1.1" fill="none" vector-effect="non-scaling-stroke" transform="rotate(-10 395 735)"/>
<ellipse cx="345" cy="870" rx="38" ry="45" stroke="#555" stroke-width="1.2" fill="none" vector-effect="non-scaling-stroke" transform="rotate(-10 345 870)"/>
<ellipse cx="470" cy="800" rx="14" ry="25" stroke="#555" stroke-width="1.1" fill="none" vector-effect="non-scaling-stroke" transform="rotate(-10 470 800)"/>
<path d="M200 870 L260 930 L320 950 L420 955 M300 950 L330 995 L400 1005 L470 990 L490 900 M420 870 L430 950 L460 950 L465 895 M440 885 L520 878 M440 900 L520 892" stroke="#555" stroke-width="1.1" fill="none" vector-effect="non-scaling-stroke"/>
<path d="M400 960 L410 1000 M350 955 L370 1000" stroke="#777" stroke-width="1" fill="none" vector-effect="non-scaling-stroke"/>
</g>
<g transform="translate(642 257) rotate(8.5)">
<path d="M0 -5.8 L37 -5.8 A2.90 5.8 0 0 1 37 5.8 L0 5.8 Z" stroke="#777" stroke-width="1" fill="#fff"/>
<ellipse cx="0" cy="0" rx="2.90" ry="5.8" stroke="#777" stroke-width="1" fill="#fff"/>
</g>
<path d="M651 261.2 L653 261.5 M654 260.6 L656.5 262.2 L657.5 261 M658.5 262.6 L661 263" stroke="#777" stroke-width="0.6" fill="none" />
<g transform="translate(590 313) rotate(-14.9)">
<ellipse cx="0.00" cy="0" rx="3.23" ry="8.5" stroke="#444" stroke-width="1.2" fill="none"/>
<ellipse cx="3.88" cy="0" rx="3.23" ry="8.5" stroke="#444" stroke-width="1.2" fill="none"/>
<ellipse cx="7.76" cy="0" rx="3.23" ry="8.5" stroke="#444" stroke-width="1.2" fill="none"/>
<ellipse cx="11.64" cy="0" rx="3.23" ry="8.5" stroke="#444" stroke-width="1.2" fill="none"/>
<ellipse cx="15.52" cy="0" rx="3.23" ry="8.5" stroke="#444" stroke-width="1.2" fill="none"/>
<ellipse cx="19.41" cy="0" rx="3.23" ry="8.5" stroke="#444" stroke-width="1.2" fill="none"/>
<ellipse cx="23.29" cy="0" rx="3.23" ry="8.5" stroke="#444" stroke-width="1.2" fill="none"/>
<ellipse cx="27.17" cy="0" rx="3.23" ry="8.5" stroke="#444" stroke-width="1.2" fill="none"/>
<ellipse cx="31.05" cy="0" rx="3.23" ry="8.5" stroke="#444" stroke-width="1.2" fill="none"/>
</g>
<g transform="translate(569.5 334) rotate(-14)">
<path d="M0 -6 L16 -6 A3.30 6 0 0 1 16 6 L0 6 Z" stroke="#777" stroke-width="1" fill="#fff"/>
<ellipse cx="0" cy="0" rx="3.30" ry="6" stroke="#777" stroke-width="1" fill="#fff"/>
</g>
<g transform="translate(603.5 341) rotate(-14)">
<path d="M0 -6 L16 -6 A3.30 6 0 0 1 16 6 L0 6 Z" stroke="#777" stroke-width="1" fill="#fff"/>
<ellipse cx="0" cy="0" rx="3.30" ry="6" stroke="#777" stroke-width="1" fill="#fff"/>
</g>
<g transform="translate(604 440) rotate(-11.8)">
<ellipse cx="0.00" cy="0" rx="3.23" ry="8.5" stroke="#444" stroke-width="1.2" fill="none"/>
<ellipse cx="3.52" cy="0" rx="3.23" ry="8.5" stroke="#444" stroke-width="1.2" fill="none"/>
<ellipse cx="7.04" cy="0" rx="3.23" ry="8.5" stroke="#444" stroke-width="1.2" fill="none"/>
<ellipse cx="10.56" cy="0" rx="3.23" ry="8.5" stroke="#444" stroke-width="1.2" fill="none"/>
<ellipse cx="14.08" cy="0" rx="3.23" ry="8.5" stroke="#444" stroke-width="1.2" fill="none"/>
<ellipse cx="17.60" cy="0" rx="3.23" ry="8.5" stroke="#444" stroke-width="1.2" fill="none"/>
<ellipse cx="21.12" cy="0" rx="3.23" ry="8.5" stroke="#444" stroke-width="1.2" fill="none"/>
<ellipse cx="24.64" cy="0" rx="3.23" ry="8.5" stroke="#444" stroke-width="1.2" fill="none"/>
<ellipse cx="28.15" cy="0" rx="3.23" ry="8.5" stroke="#444" stroke-width="1.2" fill="none"/>
<ellipse cx="31.67" cy="0" rx="3.23" ry="8.5" stroke="#444" stroke-width="1.2" fill="none"/>
</g>
<g transform="translate(775 215) scale(0.14)">
<path d="M130 65 L160 75 L350 50 L360 70 L320 90 L325 220 L300 225 L285 175 L230 170 L200 200 L195 250 L150 270 L125 250 L120 190 L165 165 L175 80" stroke="#777" stroke-width="1" fill="none" vector-effect="non-scaling-stroke"/>
<path d="M140 85 L340 62 M240 180 L245 205 L265 200 L262 178 M200 70 L240 72 L235 85" stroke="#777" stroke-width="1" fill="none" vector-effect="non-scaling-stroke"/>
<path d="M60 460 L200 430 L350 460 L360 660 Q355 690 330 700 L240 730 Q190 725 170 700 Q145 670 140 640 L145 540 Q125 515 100 500 Z" stroke="#777" stroke-width="1" fill="#fff" vector-effect="non-scaling-stroke"/>
<path d="M60 460 L75 480 L120 515 L145 540 M190 440 L215 432" stroke="#777" stroke-width="1" fill="none" vector-effect="non-scaling-stroke"/>
<path d="M280 370 L430 300 L560 310 L620 360 L640 500 L690 780 L690 850 L530 920 L520 970 L440 970 L430 880 L400 860 L360 700 L350 460 L300 440 Z" stroke="#444" stroke-width="1.1" fill="#fff" vector-effect="non-scaling-stroke"/>
<path d="M350 460 L420 430 L560 420 L620 360 M420 430 L460 640 L520 910 M460 640 L400 650 L360 620 M400 650 L430 880 M520 840 L690 780 M530 920 L520 840 L470 860 L440 970 M650 790 L655 860" stroke="#666" stroke-width="1" fill="none" vector-effect="non-scaling-stroke"/>
<path d="M300 390 L440 320 L550 325 M310 420 L450 350 L560 352 M330 370 L335 410 M380 345 L385 390 M440 320 L450 350 M480 330 L485 400 L470 470 M520 325 L525 400 M555 330 L580 470" stroke="#333" stroke-width="1.1" fill="none" vector-effect="non-scaling-stroke"/>
<path d="M490 420 L495 490 L510 490 L512 420 M530 410 L535 480 L550 478 L548 408" stroke="#333" stroke-width="1.2" fill="none" vector-effect="non-scaling-stroke"/>
<ellipse cx="470" cy="590" rx="28" ry="28" stroke="#333" stroke-width="1.3" fill="#fff" vector-effect="non-scaling-stroke"/>
<ellipse cx="470" cy="590" rx="15" ry="15" stroke="#666" stroke-width="1" fill="none" vector-effect="non-scaling-stroke"/>
<ellipse cx="610" cy="515" rx="32" ry="32" stroke="#333" stroke-width="1.3" fill="#fff" vector-effect="non-scaling-stroke"/>
<ellipse cx="610" cy="515" rx="17" ry="17" stroke="#666" stroke-width="1" fill="none" vector-effect="non-scaling-stroke"/>
</g>
<g transform="translate(880 200) scale(0.18)">
<path d="M115.0 135.0 C125.0 105.0 151.0 109.0 180.0 100.0 C209.0 91.0 230.0 86.0 260.0 90.0 C290.0 94.0 308.0 102.0 330.0 120.0 C352.0 138.0 361.0 152.0 370.0 180.0 C379.0 208.0 371.0 226.0 375.0 260.0 C379.0 294.0 379.0 302.0 390.0 350.0 C401.0 398.0 414.0 434.0 430.0 500.0 C446.0 566.0 458.0 620.0 470.0 680.0 C482.0 740.0 488.0 766.0 490.0 800.0 C492.0 834.0 490.0 832.0 480.0 850.0 C470.0 868.0 480.0 886.0 440.0 890.0 C400.0 894.0 314.0 884.0 280.0 870.0 C246.0 856.0 278.0 854.0 270.0 820.0 C262.0 786.0 252.0 752.0 240.0 700.0 C228.0 648.0 224.0 620.0 210.0 560.0 C196.0 500.0 186.0 462.0 170.0 400.0 C154.0 338.0 141.0 303.0 130.0 250.0 C119.0 197.0 105.0 165.0 115.0 135.0 Z" stroke="#777" stroke-width="1" fill="#fff" vector-effect="non-scaling-stroke"/>
<path d="M115.0 135.0 C118.0 158.0 119.0 197.0 130.0 250.0 C141.0 303.0 154.0 338.0 170.0 400.0 C186.0 462.0 196.0 500.0 210.0 560.0 C224.0 620.0 228.0 648.0 240.0 700.0 C252.0 752.0 264.0 796.0 270.0 820.0" stroke="#333" stroke-width="1.7" fill="none" vector-effect="non-scaling-stroke"/>
<path d="M135.0 150.0 C138.0 170.0 139.0 200.0 150.0 250.0 C161.0 300.0 174.4 338.0 190.0 400.0 C205.6 462.0 214.4 500.0 228.0 560.0 C241.6 620.0 246.6 650.0 258.0 700.0 C269.4 750.0 279.6 788.0 285.0 810.0" stroke="#555" stroke-width="1" fill="none" vector-effect="non-scaling-stroke"/>
<path d="M290.0 170.0 C296.0 178.0 318.0 188.0 320.0 210.0 C322.0 232.0 300.0 246.0 300.0 280.0 C300.0 314.0 306.0 332.0 320.0 380.0 C334.0 428.0 352.0 460.0 370.0 520.0 C388.0 580.0 396.0 620.0 410.0 680.0 C424.0 740.0 433.0 780.0 440.0 820.0 C447.0 860.0 444.0 868.0 445.0 880.0" stroke="#333" stroke-width="1.7" fill="none" vector-effect="non-scaling-stroke"/>
<path d="M310.0 165.0 C316.0 174.0 337.6 187.0 340.0 210.0 C342.4 233.0 322.0 246.0 322.0 280.0 C322.0 314.0 326.4 332.0 340.0 380.0 C353.6 428.0 372.4 460.0 390.0 520.0 C407.6 580.0 414.4 622.0 428.0 680.0 C441.6 738.0 450.6 774.0 458.0 810.0 C465.4 846.0 463.6 850.0 465.0 860.0" stroke="#555" stroke-width="1" fill="none" vector-effect="non-scaling-stroke"/>
<path d="M115 135 L180 100 L260 108 L300 150 L320 205" stroke="#333" stroke-width="1.5" fill="none" vector-effect="non-scaling-stroke"/>
<path d="M125 165 L290 190 M130 150 L190 120 L250 125 L290 165 M150 145 L165 175 M185 130 L205 180 M225 125 L245 185 M260 140 L275 188" stroke="#444" stroke-width="1.1" fill="none" vector-effect="non-scaling-stroke"/>
<path d="M200 300 Q195 250 235 240 L275 250 M205 325 L215 345 M260 350 L285 352" stroke="#666" stroke-width="1" fill="none" vector-effect="non-scaling-stroke"/>
<path d="M215 575 L295 565 L298 585 L225 598 M240 600 L245 670 M210 670 L300 655 L305 675 L215 690 M300 620 L330 615 L340 650 M340 600 L360 605" stroke="#555" stroke-width="1" fill="none" vector-effect="non-scaling-stroke"/>
<path d="M245 720 Q260 800 320 815 L400 825 M345 690 L370 690 L368 715" stroke="#666" stroke-width="1" fill="none" vector-effect="non-scaling-stroke"/>
<path d="M270 820 L280 870 L440 890 M285 840 L430 855 M440 890 L445 905 L470 900" stroke="#666" stroke-width="1" fill="none" vector-effect="non-scaling-stroke"/>
<path d="M60 650 L105 625 L155 650 L180 760 L135 790 L90 765 Z M60 650 L110 675 L155 650 M110 675 L135 790" stroke="#666" stroke-width="1" fill="none" vector-effect="non-scaling-stroke"/>
</g>
<g transform="translate(832.5 398) rotate(-8)">
<path d="M0 -2.2 L16 -2.2 L16 2.2 L0 2.2 Z" stroke="#444" stroke-width="0.8" fill="#bbb" />
<line x1="2" y1="-2.4" x2="3" y2="2.4" stroke="#333" stroke-width="0.9"/>
<line x1="4" y1="-2.4" x2="5" y2="2.4" stroke="#333" stroke-width="0.9"/>
<line x1="6" y1="-2.4" x2="7" y2="2.4" stroke="#333" stroke-width="0.9"/>
<line x1="8" y1="-2.4" x2="9" y2="2.4" stroke="#333" stroke-width="0.9"/>
<line x1="10" y1="-2.4" x2="11" y2="2.4" stroke="#333" stroke-width="0.9"/>
<line x1="12" y1="-2.4" x2="13" y2="2.4" stroke="#333" stroke-width="0.9"/>
<line x1="14" y1="-2.4" x2="15" y2="2.4" stroke="#333" stroke-width="0.9"/>
<path d="M16 -4.5 L19 -5 Q22 -3 22 0 Q22 3 19 5 L16 4.5 Z" stroke="#444" stroke-width="1" fill="#fff" />
<ellipse cx="23" cy="0" rx="2.5" ry="4.2" stroke="#444" stroke-width="1" fill="#fff"/>
</g>
<g transform="translate(750 400) scale(0.25)">
<path d="M150 152 Q150 140 162 136 L335 86 Q352 84 355 100 L356 198 Q356 212 342 216 L165 255 Q149 257 148 240 Z" stroke="#555" stroke-width="1.2" fill="#fff" vector-effect="non-scaling-stroke"/>
<path d="M180 140 L325 105 L326 200 L181 236 Z" stroke="#666" stroke-width="0.9" fill="none" vector-effect="non-scaling-stroke"/>
<path d="M192 150 L318 118 L318 146 L192 180 Z" stroke="#222" stroke-width="1" fill="#222" vector-effect="non-scaling-stroke"/>
<path d="M196 192 L252 178 L252 214 L196 227 Z" stroke="#222" stroke-width="1" fill="#222" vector-effect="non-scaling-stroke"/>
<path d="M196 158 L314 128 M196 166 L314 136" stroke="#aaa" stroke-width="0.8" fill="none" vector-effect="non-scaling-stroke"/>
</g>
<g transform="translate(685 470) scale(0.18)">
<path d="M50 130 L80 100 L230 80 L250 100 L250 120 L285 125 L290 150 L200 160 L190 200 L160 240 L90 245 L50 220 Z" stroke="#666" stroke-width="1" fill="#fff" vector-effect="non-scaling-stroke"/>
<path d="M80 105 L85 215 L105 235 M100 150 L150 140 L140 170 L110 180 L105 215 L150 215 L185 180 L190 160 M150 100 L160 125 L250 120 M120 185 L125 210 L148 205" stroke="#666" stroke-width="1" fill="none" vector-effect="non-scaling-stroke"/>
<path d="M225 190 L260 170 L310 140 L350 90 L420 65 L540 70 L590 100 L605 130 L600 180 L630 195 L635 235 L600 250 L500 285 L440 290 L250 260 L225 215 Z" stroke="#666" stroke-width="1" fill="#fff" vector-effect="non-scaling-stroke"/>
<path d="M480 130 L590 100 M480 130 L470 190 L440 230 L440 290 M350 90 L400 110 L480 130 M310 140 L370 150 L400 110 M260 170 L290 200 L440 230 M470 190 L600 180 M520 190 L525 240 L600 250 M560 200 L565 230 L630 215 M225 215 L300 225" stroke="#666" stroke-width="1" fill="none" vector-effect="non-scaling-stroke"/>
<path d="M250 235 L380 250 L385 262 L255 248 Z" stroke="#444" stroke-width="1.2" fill="#555" vector-effect="non-scaling-stroke"/>
<path d="M420 70 L430 100 L540 90" stroke="#999" stroke-width="1" fill="none" vector-effect="non-scaling-stroke"/>
<path d="M447 322 L495 327 L447 336 L495 341 L447 350 L495 355 L447 364 L495 369 L447 378 L495 383 L447 392 L495 397 L447 406 L495 411 L447 420 L495 425 L447 434 L495 439 L447 448" stroke="#333" stroke-width="1.1" fill="none" vector-effect="non-scaling-stroke"/>
<path d="M447 322 L495 322 M447 322 L447 448 M495 322 L495 448" stroke="#555" stroke-width="0.8" fill="none" vector-effect="non-scaling-stroke"/>
<path d="M527 337 L575 342 L527 351 L575 356 L527 365 L575 370 L527 379 L575 384 L527 393 L575 398 L527 407 L575 412 L527 421 L575 426 L527 435 L575 440 L527 449 L575 454 L527 463" stroke="#333" stroke-width="1.1" fill="none" vector-effect="non-scaling-stroke"/>
<path d="M527 337 L575 337 M527 337 L527 463 M575 337 L575 463" stroke="#555" stroke-width="0.8" fill="none" vector-effect="non-scaling-stroke"/>
<path d="M385 490 L420 470 L500 470 L525 490 L520 590 L470 610 L400 590 L380 570 Z" stroke="#666" stroke-width="1" fill="#fff" vector-effect="non-scaling-stroke"/>
<path d="M490 520 L530 500 L610 500 L635 520 L632 620 L590 650 L510 640 L490 610 Z" stroke="#666" stroke-width="1" fill="#fff" vector-effect="non-scaling-stroke"/>
<path d="M395 495 L400 570 M420 490 L425 575 M450 480 L455 590 M470 610 L465 640 L510 660 L590 650 M500 530 L505 620 M530 520 L535 630 M560 510 L565 635 M420 470 L430 490 L500 490 M530 500 L545 520 L610 520 M400 520 L450 525 M505 560 L560 565" stroke="#666" stroke-width="1" fill="none" vector-effect="non-scaling-stroke"/>
<path d="M680 215 L700 205 L790 225 L890 205 L915 235 L920 330 L890 380 L830 395 L790 370 L760 290 L740 265 L700 245 Z" stroke="#555" stroke-width="1.1" fill="#fff" vector-effect="non-scaling-stroke"/>
<path d="M790 225 L800 250 L760 290 M800 250 L890 230 L915 235 M800 250 L810 340 L830 395 M720 235 L730 270 L745 270" stroke="#555" stroke-width="1" fill="none" vector-effect="non-scaling-stroke"/>
<ellipse cx="855" cy="310" rx="45" ry="55" stroke="#444" stroke-width="1.2" fill="#fff" vector-effect="non-scaling-stroke"/>
<ellipse cx="858" cy="312" rx="38" ry="48" stroke="#666" stroke-width="0.9" fill="none" vector-effect="non-scaling-stroke"/>
</g>
<g transform="translate(750 400) scale(0.25)">
<path d="M600 262 Q530 270 508 340 Q495 400 525 480 Q560 560 575 620 Q585 660 650 678" stroke="#555" stroke-width="3.4" fill="none" vector-effect="non-scaling-stroke"/>
<path d="M600 262 Q530 270 508 340 Q495 400 525 480 Q560 560 575 620 Q585 660 650 678" stroke="#fff" stroke-width="1.5" fill="none" vector-effect="non-scaling-stroke"/>
<path d="M780 198 Q705 210 685 290 Q675 350 710 430 Q745 520 758 570 Q770 610 835 628" stroke="#555" stroke-width="3.4" fill="none" vector-effect="non-scaling-stroke"/>
<path d="M780 198 Q705 210 685 290 Q675 350 710 430 Q745 520 758 570 Q770 610 835 628" stroke="#fff" stroke-width="1.5" fill="none" vector-effect="non-scaling-stroke"/>
<path d="M598 250 L630 255 L634 305 L622 312 L618 280 L610 280 L608 305 L598 300 Z" stroke="#444" stroke-width="1.1" fill="#fff" vector-effect="non-scaling-stroke"/>
<path d="M614 254 L616 280" stroke="#666" stroke-width="1" fill="none" vector-effect="non-scaling-stroke"/>
<path d="M775 188 L807 193 L811 243 L799 250 L795 218 L787 218 L785 243 L775 238 Z" stroke="#444" stroke-width="1.1" fill="#fff" vector-effect="non-scaling-stroke"/>
<path d="M791 192 L793 218" stroke="#666" stroke-width="1" fill="none" vector-effect="non-scaling-stroke"/>
<path d="M648 668 L678 663 L688 673 L686 723 L674 728 L672 698 L662 700 L660 726 L650 720 Z" stroke="#444" stroke-width="1.1" fill="#fff" vector-effect="non-scaling-stroke"/>
<path d="M666 668 L668 698" stroke="#666" stroke-width="1" fill="none" vector-effect="non-scaling-stroke"/>
<path d="M832 620 L862 615 L872 625 L870 675 L858 680 L856 650 L846 652 L844 678 L834 672 Z" stroke="#444" stroke-width="1.1" fill="#fff" vector-effect="non-scaling-stroke"/>
<path d="M850 620 L852 650" stroke="#666" stroke-width="1" fill="none" vector-effect="non-scaling-stroke"/>
</g>
<g transform="translate(0 640) scale(0.15000)">
<ellipse cx="608" cy="372" rx="78" ry="166" stroke="#333" stroke-width="1.2" fill="#fff" vector-effect="non-scaling-stroke" transform="rotate(-12 608 372)"/>
<path d="M436 216 L560 198 L650 535 L506 556 Z" stroke="none" stroke-width="1" fill="#fff" vector-effect="non-scaling-stroke"/>
<path d="M436 216 L562 200 M506 556 L655 530" stroke="#333" stroke-width="1.2" fill="none" vector-effect="non-scaling-stroke"/>
<path d="M443 216 L584 209" stroke="#555" stroke-width="1" fill="none" vector-effect="non-scaling-stroke"/>
<path d="M463 224 L605 216" stroke="#555" stroke-width="1" fill="none" vector-effect="non-scaling-stroke"/>
<path d="M482 243 L626 233" stroke="#555" stroke-width="1" fill="none" vector-effect="non-scaling-stroke"/>
<path d="M501 270 L646 258" stroke="#555" stroke-width="1" fill="none" vector-effect="non-scaling-stroke"/>
<path d="M518 305 L664 291" stroke="#555" stroke-width="1" fill="none" vector-effect="non-scaling-stroke"/>
<path d="M532 345 L678 329" stroke="#555" stroke-width="1" fill="none" vector-effect="non-scaling-stroke"/>
<path d="M541 388 L687 370" stroke="#555" stroke-width="1" fill="none" vector-effect="non-scaling-stroke"/>
<path d="M547 431 L691 411" stroke="#555" stroke-width="1" fill="none" vector-effect="non-scaling-stroke"/>
<path d="M547 472 L691 449" stroke="#555" stroke-width="1" fill="none" vector-effect="non-scaling-stroke"/>
<path d="M543 507 L684 483" stroke="#555" stroke-width="1" fill="none" vector-effect="non-scaling-stroke"/>
<path d="M534 534 L673 509" stroke="#555" stroke-width="1" fill="none" vector-effect="non-scaling-stroke"/>
<path d="M520 552 L658 527" stroke="#555" stroke-width="1" fill="none" vector-effect="non-scaling-stroke"/>
<path d="M547 211 A76 168 -12 0 1 616 538" stroke="#777" stroke-width="0.9" fill="none" vector-effect="non-scaling-stroke"/>
<ellipse cx="470" cy="388" rx="70" ry="175" stroke="#333" stroke-width="1.4" fill="#fff" vector-effect="non-scaling-stroke" transform="rotate(-12 470 388)"/>
<path d="M245 380 Q265 300 340 258 L434 214 L506 556 L400 582 L290 545 Q225 470 245 380 Z" stroke="none" stroke-width="1" fill="#fff" vector-effect="non-scaling-stroke"/>
<path d="M434 214 L340 258 Q265 300 245 380 Q232 470 290 545 L400 582 L506 556" stroke="#444" stroke-width="1.1" fill="none" vector-effect="non-scaling-stroke"/>
<path d="M367 231 A66 172 -12 0 1 438 568" stroke="#999" stroke-width="1" fill="none" vector-effect="non-scaling-stroke"/>
<path d="M397 225 A66 172 -12 0 1 468 562" stroke="#999" stroke-width="1" fill="none" vector-effect="non-scaling-stroke"/>
<path d="M290 400 Q300 300 380 250" stroke="#999" stroke-width="1" fill="none" vector-effect="non-scaling-stroke"/>
<ellipse cx="265" cy="455" rx="38" ry="48" stroke="#333" stroke-width="1.2" fill="#fff" vector-effect="non-scaling-stroke" transform="rotate(-12 265 455)"/>
<ellipse cx="270" cy="460" rx="22" ry="30" stroke="#333" stroke-width="1" fill="#777" vector-effect="non-scaling-stroke" transform="rotate(-12 270 460)"/>
<path d="M110 522 L212 488 L217 508 L115 542 Z" stroke="#333" stroke-width="1" fill="#aaa" vector-effect="non-scaling-stroke"/>
<path d="M118 520 L124 538" stroke="#333" stroke-width="1.1" fill="none" vector-effect="non-scaling-stroke"/>
<path d="M129 516 L135 534" stroke="#333" stroke-width="1.1" fill="none" vector-effect="non-scaling-stroke"/>
<path d="M140 513 L146 531" stroke="#333" stroke-width="1.1" fill="none" vector-effect="non-scaling-stroke"/>
<path d="M151 509 L157 527" stroke="#333" stroke-width="1.1" fill="none" vector-effect="non-scaling-stroke"/>
<path d="M162 505 L168 523" stroke="#333" stroke-width="1.1" fill="none" vector-effect="non-scaling-stroke"/>
<path d="M173 502 L179 520" stroke="#333" stroke-width="1.1" fill="none" vector-effect="non-scaling-stroke"/>
<path d="M184 498 L190 516" stroke="#333" stroke-width="1.1" fill="none" vector-effect="non-scaling-stroke"/>
<path d="M195 494 L201 512" stroke="#333" stroke-width="1.1" fill="none" vector-effect="non-scaling-stroke"/>
<path d="M206 490 L212 508" stroke="#333" stroke-width="1.1" fill="none" vector-effect="non-scaling-stroke"/>
<ellipse cx="85" cy="547" rx="24" ry="38" stroke="#333" stroke-width="1.4" fill="#fff" vector-effect="non-scaling-stroke" transform="rotate(-15 85 547)"/>
<ellipse cx="92" cy="543" rx="14" ry="26" stroke="#555" stroke-width="1" fill="none" vector-effect="non-scaling-stroke" transform="rotate(-15 92 543)"/>
<path d="M838 350 Q770 300 768 230 Q780 150 835 158 Q895 175 908 270 Q910 340 868 358" stroke="#333" stroke-width="1.5" fill="none" vector-effect="non-scaling-stroke"/>
<path d="M840 335 Q788 295 786 232 Q795 172 835 176 Q882 190 892 272 Q893 325 866 342" stroke="#555" stroke-width="1" fill="none" vector-effect="non-scaling-stroke"/>
</g>
<g transform="translate(120 590) scale(0.18000)">
<ellipse cx="425" cy="340" rx="132" ry="205" stroke="#333" stroke-width="1.5" fill="#fff" vector-effect="non-scaling-stroke" transform="rotate(-14 425 340)"/>
<ellipse cx="345" cy="362" rx="135" ry="202" stroke="#444" stroke-width="1.1" fill="#fff" vector-effect="non-scaling-stroke" transform="rotate(-14 345 362)"/>
<rect x="423" y="253" width="48" height="18" rx="8" transform="rotate(6 447 262)" stroke="#444" stroke-width="1" fill="#fff" vector-effect="non-scaling-stroke"/>
<rect x="438" y="291" width="48" height="18" rx="8" transform="rotate(0 462 300)" stroke="#444" stroke-width="1" fill="#fff" vector-effect="non-scaling-stroke"/>
<rect x="447" y="329" width="48" height="18" rx="8" transform="rotate(-5 471 338)" stroke="#444" stroke-width="1" fill="#fff" vector-effect="non-scaling-stroke"/>
<rect x="451" y="367" width="48" height="18" rx="8" transform="rotate(-10 475 376)" stroke="#444" stroke-width="1" fill="#fff" vector-effect="non-scaling-stroke"/>
<path d="M330 160 L345 175 M355 150 L350 170 M380 185 L400 175 L405 195 L385 200 Z M410 215 L435 205 L445 228 M478 410 L503 415 L498 440 L478 435 Z M472 455 L494 465 L482 485 M455 500 L470 510" stroke="#333" stroke-width="1.5" fill="none" vector-effect="non-scaling-stroke"/>
<ellipse cx="290" cy="380" rx="140" ry="192" stroke="#555" stroke-width="1" fill="#fff" vector-effect="non-scaling-stroke" transform="rotate(-14 290 380)"/>
<ellipse cx="255" cy="393" rx="144" ry="184" stroke="#555" stroke-width="1" fill="#fff" vector-effect="non-scaling-stroke" transform="rotate(-14 255 393)"/>
<ellipse cx="232" cy="402" rx="147" ry="180" stroke="#2a2a2a" stroke-width="2" fill="#fff" vector-effect="non-scaling-stroke" transform="rotate(-14 232 402)"/>
<ellipse cx="232" cy="402" rx="128" ry="160" stroke="#555" stroke-width="1" fill="none" vector-effect="non-scaling-stroke" transform="rotate(-14 232 402)"/>
<ellipse cx="240" cy="402" rx="112" ry="146" stroke="#444" stroke-width="1.2" fill="none" vector-effect="non-scaling-stroke" transform="rotate(-14 240 402)"/>
<ellipse cx="255" cy="400" rx="70" ry="118" stroke="#333" stroke-width="2.2" fill="#fff" vector-effect="non-scaling-stroke" transform="rotate(-14 255 400)"/>
<ellipse cx="268" cy="398" rx="48" ry="92" stroke="#333" stroke-width="1.6" fill="#fff" vector-effect="non-scaling-stroke" transform="rotate(-14 268 398)"/>
<path d="M215 300 Q190 390 240 490 M300 310 Q330 400 290 490" stroke="#333" stroke-width="2.2" fill="none" vector-effect="non-scaling-stroke"/>
<ellipse cx="230" cy="528" rx="5" ry="5" stroke="#333" stroke-width="1" fill="#333" vector-effect="non-scaling-stroke"/>
<ellipse cx="201" cy="513" rx="5" ry="5" stroke="#333" stroke-width="1" fill="#333" vector-effect="non-scaling-stroke"/>
<ellipse cx="178" cy="484" rx="5" ry="5" stroke="#333" stroke-width="1" fill="#333" vector-effect="non-scaling-stroke"/>
<ellipse cx="162" cy="446" rx="5" ry="5" stroke="#333" stroke-width="1" fill="#333" vector-effect="non-scaling-stroke"/>
<ellipse cx="157" cy="402" rx="5" ry="5" stroke="#333" stroke-width="1" fill="#333" vector-effect="non-scaling-stroke"/>
<ellipse cx="162" cy="358" rx="5" ry="5" stroke="#333" stroke-width="1" fill="#333" vector-effect="non-scaling-stroke"/>
<ellipse cx="178" cy="320" rx="5" ry="5" stroke="#333" stroke-width="1" fill="#333" vector-effect="non-scaling-stroke"/>
<ellipse cx="201" cy="291" rx="5" ry="5" stroke="#333" stroke-width="1" fill="#333" vector-effect="non-scaling-stroke"/>
<ellipse cx="230" cy="276" rx="5" ry="5" stroke="#333" stroke-width="1" fill="#333" vector-effect="non-scaling-stroke"/>
<ellipse cx="262" cy="335" rx="8" ry="10" stroke="#333" stroke-width="1.2" fill="#fff" vector-effect="non-scaling-stroke"/>
<ellipse cx="268" cy="375" rx="8" ry="10" stroke="#333" stroke-width="1.2" fill="#fff" vector-effect="non-scaling-stroke"/>
<ellipse cx="274" cy="415" rx="8" ry="10" stroke="#333" stroke-width="1.2" fill="#fff" vector-effect="non-scaling-stroke"/>
<ellipse cx="282" cy="455" rx="8" ry="10" stroke="#333" stroke-width="1.2" fill="#fff" vector-effect="non-scaling-stroke"/>
</g>
<g transform="translate(221.7 637.8) rotate(-18.1)">
<path d="M33 -13.2 L52 -13.2 A7.26 13.2 0 0 1 52 13.2 L33 13.2 Z" stroke="#2a2a2a" stroke-width="1.5" fill="#fff"/>
<ellipse cx="33" cy="0" rx="7.26" ry="13.2" stroke="#2a2a2a" stroke-width="1.5" fill="#fff"/>
<path d="M27 -9.5 L36 -9.5 A5.23 9.5 0 0 1 36 9.5 L27 9.5 Z" stroke="#2a2a2a" stroke-width="1.5" fill="#fff"/>
<ellipse cx="27" cy="0" rx="5.23" ry="9.5" stroke="#2a2a2a" stroke-width="1.5" fill="#fff"/>
<path d="M10 -6.3 L30 -6.3 A3.47 6.3 0 0 1 30 6.3 L10 6.3 Z" stroke="#2a2a2a" stroke-width="1.5" fill="#fff"/>
<ellipse cx="10" cy="0" rx="3.47" ry="6.3" stroke="#2a2a2a" stroke-width="1.5" fill="#fff"/>
<path d="M5 -7.6 L10 -7.6 A4.18 7.6 0 0 1 10 7.6 L5 7.6 Z" stroke="#2a2a2a" stroke-width="1.5" fill="#fff"/>
<ellipse cx="5" cy="0" rx="4.18" ry="7.6" stroke="#2a2a2a" stroke-width="1.5" fill="#fff"/>
<path d="M0 -4.3 L6 -4.3 A2.37 4.3 0 0 1 6 4.3 L0 4.3 Z" stroke="#2a2a2a" stroke-width="1.5" fill="#fff"/>
<ellipse cx="0" cy="0" rx="2.37" ry="4.3" stroke="#2a2a2a" stroke-width="1.5" fill="#fff"/>
</g>
<g transform="translate(221.7 637.8) rotate(-18.1)">
<ellipse cx="0" cy="0" rx="2.4" ry="4.3" stroke="#333" stroke-width="0.8" fill="#aaa"/>
<line x1="1.5" y1="-4.2" x2="1.5" y2="4.2" stroke="#333" stroke-width="0.8"/>
<line x1="2.8" y1="-4.2" x2="2.8" y2="4.2" stroke="#333" stroke-width="0.8"/>
<line x1="4.1" y1="-4.2" x2="4.1" y2="4.2" stroke="#333" stroke-width="0.8"/>
<line x1="5.4" y1="-4.2" x2="5.4" y2="4.2" stroke="#333" stroke-width="0.8"/>
<ellipse cx="41" cy="-6.5" rx="3.2" ry="2.2" stroke="#222" stroke-width="1.5" fill="none"/>
<ellipse cx="43" cy="4.5" rx="2.8" ry="2.2" stroke="#222" stroke-width="1.5" fill="none"/>
<path d="M11 -3 L28 -3 M11 3.5 L28 3.5" stroke="#444" stroke-width="0.9" fill="none" />
<path d="M30 -9 L30 9 M33 -9.5 L33 9.5" stroke="#444" stroke-width="0.9" fill="none" />
</g>
<g transform="translate(155 745) scale(0.15000)">
<path d="M95.0 340.0 C104.0 301.0 98.5 304.0 130.0 250.0 C161.5 196.0 152.0 202.0 200.0 160.0 C248.0 118.0 236.0 120.5 290.0 110.0 C344.0 99.5 338.0 104.0 380.0 125.0 C422.0 146.0 416.5 142.5 430.0 180.0 C443.5 217.5 443.0 214.0 425.0 250.0 C407.0 286.0 407.5 264.0 370.0 300.0 C332.5 336.0 345.0 334.0 300.0 370.0 C255.0 406.0 265.0 408.0 220.0 420.0 C175.0 432.0 186.0 422.0 150.0 410.0 C114.0 398.0 116.5 401.0 100.0 380.0 C83.5 359.0 86.0 379.0 95.0 340.0 Z" stroke="#444" stroke-width="1.1" fill="#fff" vector-effect="non-scaling-stroke"/>
<path d="M112.0 350.0 C121.6 327.3 121.3 309.8 148.0 265.0 C174.7 220.2 173.6 217.5 212.0 182.0 C250.4 146.5 270.7 145.3 292.0 132.0 M232.0 172.0 C258.1 179.5 292.7 208.5 330.0 200.0 C367.3 191.5 360.8 156.0 372.0 140.0 M330.0 200.0 C334.0 216.5 358.3 226.8 345.0 262.0 C331.7 297.2 316.0 297.3 280.0 332.0 C244.0 366.7 244.1 371.7 210.0 392.0 C175.9 412.3 167.5 403.7 152.0 408.0 M345 262 L422 248" stroke="#666" stroke-width="1" fill="none" vector-effect="non-scaling-stroke"/>
<path d="M150.0 322.0 C165.0 301.0 166.4 277.2 200.0 252.0 C233.6 226.8 233.5 235.0 262.0 238.0 C290.5 241.0 287.2 245.8 295.0 262.0 C302.8 278.2 306.9 268.0 288.0 292.0 C269.1 316.0 258.4 318.0 232.0 342.0 C205.6 366.0 209.6 363.0 200.0 372.0" stroke="#444" stroke-width="1.1" fill="none" vector-effect="non-scaling-stroke"/>
<path d="M200 292 L250 277 L255 312 L215 327 Z M240 200 L255 180 M300 215 L315 195 M175 330 L195 345 M130 380 L180 350 L215 365 L165 400 Z" stroke="#555" stroke-width="1" fill="none" vector-effect="non-scaling-stroke"/>
<path d="M388 200 L420 190 L420 240 L392 255 Z" stroke="#222" stroke-width="1" fill="#222" vector-effect="non-scaling-stroke"/>
<path d="M620.0 165.0 C643.3 152.8 663.3 147.8 700.0 142.0 C736.7 136.2 806.7 127.0 840.0 130.0 C873.3 133.0 889.0 148.3 900.0 160.0 C911.0 171.7 906.0 163.3 906.0 200.0 C906.0 236.7 924.3 343.3 900.0 380.0 C875.7 416.7 806.7 415.0 760.0 420.0 C713.3 425.0 653.3 416.7 620.0 410.0 C586.7 403.3 572.5 406.7 560.0 380.0 C547.5 353.3 545.0 277.5 545.0 250.0 C545.0 222.5 547.5 229.2 560.0 215.0 C572.5 200.8 596.7 177.2 620.0 165.0 Z" stroke="#444" stroke-width="1.1" fill="#fff" vector-effect="non-scaling-stroke"/>
<path d="M560 215 L700 245 L905 195 M700 245 L705 418 M548 285 L702 315 L903 262 M555 340 L704 372 L900 325 M620 165 L640 195 L850 152 L840 130 M640 195 L645 232" stroke="#444" stroke-width="1.1" fill="none" vector-effect="non-scaling-stroke"/>
<path d="M722 262 L722 222 Q722 215 735 212 L880 187 Q890 187 890 197 L890 235 Q890 243 880 246 L735 288 Q722 290 722 280 Z M727 335 Q727 325 740 322 L870 292 Q880 292 880 300 L880 322 Q880 330 870 333 L742 365 Q728 367 727 357 Z" stroke="#555" stroke-width="1" fill="none" vector-effect="non-scaling-stroke"/>
<path d="M560 258 L700 285 L700 308 L560 282 Z" stroke="#333" stroke-width="1" fill="#555" vector-effect="non-scaling-stroke"/>
<path d="M562 318 L700 345 L700 362 L562 336 Z" stroke="#333" stroke-width="1" fill="#777" vector-effect="non-scaling-stroke"/>
<path d="M570 230 L690 255 M600 178 L610 222 M660 168 L665 196 M760 146 L765 172 M575 355 L700 385 M580 372 L702 400" stroke="#666" stroke-width="1" fill="none" vector-effect="non-scaling-stroke"/>
</g>
<g transform="translate(750 600) scale(0.25)">
<path d="M700 665 Q700 650 715 650 L830 652 Q845 655 845 668 L845 730 Q845 742 830 742 L720 735 Q705 733 705 720 Z" stroke="#444" stroke-width="1.1" fill="#fff" vector-effect="non-scaling-stroke"/>
<path d="M715 665 L800 668 L815 690 L815 725 M800 668 L800 720 L720 715" stroke="#666" stroke-width="1" fill="none" vector-effect="non-scaling-stroke"/>
<path d="M745 650 Q750 632 770 632 Q792 633 795 652" stroke="#444" stroke-width="1.2" fill="none" vector-effect="non-scaling-stroke"/>
<path d="M640 772 L720 735 L830 760 L830 815 L750 835 L645 810 Z" stroke="#444" stroke-width="1.1" fill="#fff" vector-effect="non-scaling-stroke"/>
<path d="M640 772 L750 795 L830 760 M750 795 L750 835 M660 778 L728 748 L810 765 M690 800 L700 802 M740 735 L742 745 M780 745 L782 755" stroke="#666" stroke-width="1" fill="none" vector-effect="non-scaling-stroke"/>
</g>
<g transform="translate(380 580) scale(0.22000)">
<path d="M45 240 L120 205 L270 170 L300 105 L400 90 L510 95 L560 150 L620 150 L690 100 L710 40 L760 20 L920 15 L940 80 L930 160 L900 185 L790 185 L780 240 L430 270 L415 290 L420 480 L410 590 L430 650 L440 800 L430 830 L250 870 L190 850 L150 790 L130 730 L110 690 L60 690 L55 560 L45 400 Z" stroke="none" stroke-width="1" fill="#fff" vector-effect="non-scaling-stroke"/>
<path d="M45.0 240.0 C60.0 233.0 75.0 219.0 120.0 205.0 C165.0 191.0 234.0 190.0 270.0 170.0 C306.0 150.0 274.0 121.0 300.0 105.0 C326.0 89.0 358.0 92.0 400.0 90.0 C442.0 88.0 478.0 83.0 510.0 95.0 C542.0 107.0 538.0 139.0 560.0 150.0 C582.0 161.0 594.0 160.0 620.0 150.0 C646.0 140.0 672.0 122.0 690.0 100.0 C708.0 78.0 696.0 56.0 710.0 40.0 C724.0 24.0 718.0 25.0 760.0 20.0 C802.0 15.0 884.0 3.0 920.0 15.0 C956.0 27.0 938.0 51.0 940.0 80.0 C942.0 109.0 938.0 139.0 930.0 160.0 C922.0 181.0 928.0 180.0 900.0 185.0 C872.0 190.0 814.0 174.0 790.0 185.0 C766.0 196.0 782.0 229.0 780.0 240.0" stroke="#444" stroke-width="1.1" fill="none" vector-effect="non-scaling-stroke"/>
<path d="M62.0 250.0 C74.6 244.4 81.0 235.0 125.0 222.0 C169.0 209.0 244.6 205.4 282.0 185.0 C319.4 164.6 288.4 136.0 312.0 120.0 C335.6 104.0 362.4 107.0 400.0 105.0 C437.6 103.0 470.0 98.0 500.0 110.0 C530.0 122.0 525.0 154.0 550.0 165.0 C575.0 176.0 595.0 175.0 625.0 165.0 C655.0 155.0 680.6 137.0 700.0 115.0 C719.4 93.0 709.0 71.0 722.0 55.0 C735.0 39.0 728.4 40.0 765.0 35.0 C801.6 30.0 877.0 31.0 905.0 30.0" stroke="#5a5a5a" stroke-width="1" fill="none" vector-effect="non-scaling-stroke"/>
<path d="M45 240 L45 400 L55 560 L60 690 L110 690 L130 730" stroke="#555" stroke-width="1.1" fill="none" vector-effect="non-scaling-stroke"/>
<path d="M100.0 290.0 C101.0 298.0 103.0 292.0 105.0 330.0 C107.0 368.0 107.0 426.0 110.0 480.0 C113.0 534.0 116.0 552.0 120.0 600.0 C124.0 648.0 124.0 682.0 130.0 720.0 C136.0 758.0 138.0 764.0 150.0 790.0 C162.0 816.0 170.0 834.0 190.0 850.0 C210.0 866.0 202.0 874.0 250.0 870.0 C298.0 866.0 392.0 844.0 430.0 830.0 C468.0 816.0 438.0 806.0 440.0 800.0" stroke="#222" stroke-width="2" fill="none" vector-effect="non-scaling-stroke"/>
<path d="M430 270 L780 240" stroke="#222" stroke-width="1.8" fill="none" vector-effect="non-scaling-stroke"/>
<path d="M430 270 L415 290 L420 480" stroke="#333" stroke-width="1.3" fill="none" vector-effect="non-scaling-stroke"/>
<path d="M420 480 L410 590 L430 650 L440 800" stroke="#444" stroke-width="1.1" fill="none" vector-effect="non-scaling-stroke"/>
<path d="M118.0 300.0 C118.8 336.0 119.2 420.0 122.0 480.0 C124.8 540.0 128.0 553.0 132.0 600.0 C136.0 647.0 136.0 679.0 142.0 715.0 C148.0 751.0 150.8 756.0 162.0 780.0 C173.2 804.0 180.0 820.6 198.0 835.0 C216.0 849.4 207.6 856.0 252.0 852.0 C296.4 848.0 386.4 822.4 420.0 815.0" stroke="#5a5a5a" stroke-width="1" fill="none" vector-effect="non-scaling-stroke"/>
<path d="M570 225 L690 215 M540 240 L560 225 M600 250 L700 235 L760 228" stroke="#333" stroke-width="1.5" fill="none" vector-effect="non-scaling-stroke"/>
<path d="M50 300 Q75 290 100 310 M48 350 L100 360 M50 420 Q75 410 108 440 M52 470 L108 480 M58 560 Q85 550 118 575 M60 620 L122 630 M62 585 L120 600" stroke="#5a5a5a" stroke-width="1" fill="none" vector-effect="non-scaling-stroke"/>
<ellipse cx="95" cy="300" rx="12" ry="20" stroke="#444" stroke-width="1.1" fill="none" vector-effect="non-scaling-stroke"/>
<path d="M105 330 L280 305 L410 310 M130 380 L280 360 L410 360 M125 350 L275 325 L405 330 M280 250 L280 500 M280 250 L330 180 L420 170 L440 200 L430 270" stroke="#5a5a5a" stroke-width="1" fill="none" vector-effect="non-scaling-stroke"/>
<path d="M130 540 L250 510 L410 520 M140 590 L260 565 L400 575 M135 560 L255 535 L405 545 M160 600 L400 590 L410 620 M250 510 L260 565" stroke="#5a5a5a" stroke-width="1" fill="none" vector-effect="non-scaling-stroke"/>
<path d="M330 180 L345 140 L400 130 M345 140 L350 180 M360 160 L410 150 L460 160 L470 200 M420 130 L500 140 L540 180 L545 230" stroke="#5a5a5a" stroke-width="1" fill="none" vector-effect="non-scaling-stroke"/>
<ellipse cx="465" cy="205" rx="16" ry="24" stroke="#5a5a5a" stroke-width="1" fill="none" vector-effect="non-scaling-stroke"/>
<ellipse cx="690" cy="195" rx="10" ry="16" stroke="#5a5a5a" stroke-width="1" fill="none" vector-effect="non-scaling-stroke"/>
<path d="M545 230 L690 215 L780 205 M560 180 L680 170 L700 130 M620 165 L630 210 M690 215 L700 130 L740 120 L790 125 L790 185 M430 300 L540 290 L550 345 L440 360 M470 330 L530 350" stroke="#5a5a5a" stroke-width="1" fill="none" vector-effect="non-scaling-stroke"/>
<path d="M330 200 Q300 230 310 300 M380 175 L385 240" stroke="#999" stroke-width="1" fill="none" vector-effect="non-scaling-stroke"/>
<path d="M180 620 L260 720 L360 790 M210 615 L300 700 L400 760 M250 610 L330 680 L415 720 M300 605 L360 650 L420 680 M200 760 L260 720 M220 810 L300 740 L340 700 M290 830 L340 760 L380 720 M360 815 L390 760 M170 640 L190 760 L230 830 M420 620 L425 790" stroke="#5a5a5a" stroke-width="1" fill="none" vector-effect="non-scaling-stroke"/>
<ellipse cx="205" cy="770" rx="18" ry="26" stroke="#444" stroke-width="1.1" fill="#fff" vector-effect="non-scaling-stroke"/>
<ellipse cx="375" cy="735" rx="24" ry="30" stroke="#444" stroke-width="1.1" fill="#fff" vector-effect="non-scaling-stroke"/>
<ellipse cx="375" cy="735" rx="12" ry="16" stroke="#5a5a5a" stroke-width="1" fill="none" vector-effect="non-scaling-stroke"/>
<ellipse cx="260" cy="755" rx="12" ry="16" stroke="#5a5a5a" stroke-width="1" fill="none" vector-effect="non-scaling-stroke"/>
<path d="M48 260 L100 275 M46 320 L102 335 M47 380 L104 395 M50 450 L108 462 M52 500 L110 512 M55 530 L114 545 M58 650 L124 660 M62 670 L126 682" stroke="#666" stroke-width="1" fill="none" vector-effect="non-scaling-stroke"/>
<path d="M440 285 L780 255 M450 300 L560 292 M600 275 L760 262 M560 240 L570 270 M640 235 L648 262 M720 228 L726 256" stroke="#555" stroke-width="1" fill="none" vector-effect="non-scaling-stroke"/>
<path d="M130 400 L280 385 L410 388 M135 440 L280 425 L412 430 M140 610 L180 620 M150 640 L175 700 L200 745 M400 600 L420 640 L425 700" stroke="#666" stroke-width="1" fill="none" vector-effect="non-scaling-stroke"/>
<path d="M300 105 L310 150 L345 140 M400 90 L402 130 M510 95 L500 140 M560 150 L555 185 M620 150 L622 168 M690 100 L700 130 M760 20 L765 35 M920 15 L905 30" stroke="#666" stroke-width="1" fill="none" vector-effect="non-scaling-stroke"/>
<path d="M790 60 L830 45 L920 50 L925 150 L830 165 L790 125 M830 45 L835 165 M800 70 L905 62 M805 90 L915 85 M805 110 L920 108 M810 130 L920 130 M810 150 L905 152 M860 50 L862 160 M890 50 L895 155" stroke="#444" stroke-width="1.2" fill="none" vector-effect="non-scaling-stroke"/>
<path d="M905 80 L930 75 L945 110 L925 150" stroke="#333" stroke-width="1.2" fill="none" vector-effect="non-scaling-stroke"/>
<path d="M740 60 L760 120 M722 55 L740 120" stroke="#5a5a5a" stroke-width="1" fill="none" vector-effect="non-scaling-stroke"/>
</g>
<g transform="translate(378 738.5) rotate(12)">
<path d="M3 -2 L17 -2 L17 2 L3 2 Z" stroke="#444" stroke-width="0.8" fill="#bbb" />
<line x1="4" y1="-2.3" x2="5" y2="2.3" stroke="#333" stroke-width="0.9"/>
<line x1="6" y1="-2.3" x2="7" y2="2.3" stroke="#333" stroke-width="0.9"/>
<line x1="8" y1="-2.3" x2="9" y2="2.3" stroke="#333" stroke-width="0.9"/>
<line x1="10" y1="-2.3" x2="11" y2="2.3" stroke="#333" stroke-width="0.9"/>
<line x1="12" y1="-2.3" x2="13" y2="2.3" stroke="#333" stroke-width="0.9"/>
<line x1="14" y1="-2.3" x2="15" y2="2.3" stroke="#333" stroke-width="0.9"/>
<line x1="16" y1="-2.3" x2="17" y2="2.3" stroke="#333" stroke-width="0.9"/>
<ellipse cx="1" cy="0" rx="2.6" ry="4.2" stroke="#333" stroke-width="1.2" fill="#fff"/>
<ellipse cx="0" cy="0" rx="1.6" ry="3" stroke="#555" stroke-width="0.8" fill="none"/>
</g>
<g transform="translate(483 704) rotate(-14.7)">
<ellipse cx="0.00" cy="0" rx="1.68" ry="4.2" stroke="#666" stroke-width="1" fill="none"/>
<ellipse cx="3.62" cy="0" rx="1.68" ry="4.2" stroke="#666" stroke-width="1" fill="none"/>
<ellipse cx="7.24" cy="0" rx="1.68" ry="4.2" stroke="#666" stroke-width="1" fill="none"/>
<ellipse cx="10.85" cy="0" rx="1.68" ry="4.2" stroke="#666" stroke-width="1" fill="none"/>
<ellipse cx="14.47" cy="0" rx="1.68" ry="4.2" stroke="#666" stroke-width="1" fill="none"/>
<ellipse cx="18.09" cy="0" rx="1.68" ry="4.2" stroke="#666" stroke-width="1" fill="none"/>
<ellipse cx="21.71" cy="0" rx="1.68" ry="4.2" stroke="#666" stroke-width="1" fill="none"/>
</g>
<g transform="translate(521 695) rotate(-14)">
<path d="M3 -6.5 L16 -6.5 A3.90 6.5 0 0 1 16 6.5 L3 6.5 Z" stroke="#666" stroke-width="1" fill="#fff"/>
<ellipse cx="3" cy="0" rx="3.90" ry="6.5" stroke="#666" stroke-width="1" fill="#fff"/>
<path d="M0 -9.5 L4 -9.5 A5.70 9.5 0 0 1 4 9.5 L0 9.5 Z" stroke="#666" stroke-width="1" fill="#fff"/>
<ellipse cx="0" cy="0" rx="5.70" ry="9.5" stroke="#666" stroke-width="1" fill="#fff"/>
</g>
<ellipse cx="521.3" cy="694.9" rx="3.4" ry="5.6" stroke="#666" stroke-width="0.9" fill="none" transform="rotate(-14 521.3 694.9)"/>
<g transform="translate(610 600) scale(0.24000)">
<path d="M85.0 275.0 C108.0 263.4 151.0 276.0 200.0 272.0 C249.0 268.0 291.0 262.4 330.0 255.0 C369.0 247.6 381.0 246.0 395.0 235.0 C409.0 224.0 391.0 210.0 400.0 200.0 C409.0 190.0 426.0 199.0 440.0 185.0 C454.0 171.0 454.0 140.0 470.0 130.0 C486.0 120.0 509.0 126.0 520.0 135.0 C531.0 144.0 527.0 159.0 525.0 175.0 C523.0 191.0 507.0 214.0 510.0 215.0 C513.0 216.0 530.0 191.0 540.0 180.0 C550.0 169.0 540.0 168.0 560.0 160.0 C580.0 152.0 620.0 154.0 640.0 140.0 C660.0 126.0 648.0 102.0 660.0 90.0 C672.0 78.0 666.0 84.0 700.0 80.0 C734.0 76.0 800.0 77.0 830.0 70.0 C860.0 63.0 842.0 49.0 850.0 45.0 C858.0 41.0 864.0 35.0 870.0 50.0 C876.0 65.0 874.0 96.0 880.0 120.0 C886.0 144.0 890.0 154.0 900.0 170.0 C910.0 186.0 921.0 182.0 930.0 200.0 C939.0 218.0 943.0 236.0 945.0 260.0 C947.0 284.0 961.0 302.0 940.0 320.0 C919.0 338.0 914.0 334.0 840.0 350.0 C766.0 366.0 627.0 393.0 570.0 400.0 C513.0 407.0 556.0 351.0 555.0 385.0 C554.0 419.0 564.0 519.0 565.0 570.0 C566.0 621.0 568.0 621.0 560.0 640.0 C552.0 659.0 537.0 649.0 525.0 665.0 C513.0 681.0 517.0 695.0 500.0 720.0 C483.0 745.0 466.0 772.0 440.0 790.0 C414.0 808.0 388.0 801.0 370.0 810.0 C352.0 819.0 376.0 829.0 350.0 835.0 C324.0 841.0 276.0 843.0 240.0 840.0 C204.0 837.0 192.0 836.0 170.0 820.0 C148.0 804.0 141.0 784.0 130.0 760.0 C119.0 736.0 120.0 724.0 115.0 700.0 C110.0 676.0 108.0 676.0 105.0 640.0 C102.0 604.0 103.0 568.0 100.0 520.0 C97.0 472.0 93.0 438.0 90.0 400.0 C87.0 362.0 86.0 355.0 85.0 330.0 C84.0 305.0 62.0 286.6 85.0 275.0 Z" stroke="#888" stroke-width="1" fill="#fff" vector-effect="non-scaling-stroke"/>
<path d="M95 290 Q200 286 335 268 L400 248" stroke="#999" stroke-width="1" fill="none" vector-effect="non-scaling-stroke"/>
<ellipse cx="100" cy="315" rx="38" ry="28" stroke="#888" stroke-width="1" fill="#fff" vector-effect="non-scaling-stroke"/>
<path d="M395 235 L420 245 L470 230 L490 190 L470 175 L440 185 M415 210 L445 220 L465 195 M470 130 Q455 150 475 160 L510 150 M480 140 L515 145" stroke="#777" stroke-width="1.1" fill="none" vector-effect="non-scaling-stroke"/>
<ellipse cx="530" cy="240" rx="22" ry="30" stroke="#888" stroke-width="1" fill="#fff" vector-effect="non-scaling-stroke"/>
<path d="M850 45 Q840 60 860 75 M880 120 Q870 140 890 165" stroke="#888" stroke-width="1" fill="none" vector-effect="non-scaling-stroke"/>
<path d="M95 360 Q90 375 100 393 L330 378 Q352 365 335 345 Z" stroke="#888" stroke-width="1" fill="none" vector-effect="non-scaling-stroke"/>
<path d="M95 440 Q90 455 100 473 L330 458 Q352 445 335 425 Z" stroke="#888" stroke-width="1" fill="none" vector-effect="non-scaling-stroke"/>
<path d="M95 518 Q90 533 100 551 L330 536 Q352 523 335 503 Z" stroke="#888" stroke-width="1" fill="none" vector-effect="non-scaling-stroke"/>
<path d="M105 590 Q300 600 550 545 M105 612 Q300 622 557 567 M110 690 Q300 700 525 660 M115 706 Q300 716 520 674" stroke="#888" stroke-width="1" fill="none" vector-effect="non-scaling-stroke"/>
<ellipse cx="270" cy="750" rx="36" ry="24" stroke="#777" stroke-width="1.1" fill="none" vector-effect="non-scaling-stroke" transform="rotate(-25 270 750)"/>
<ellipse cx="272" cy="750" rx="28" ry="17" stroke="#999" stroke-width="0.9" fill="none" vector-effect="non-scaling-stroke" transform="rotate(-25 272 750)"/>
<ellipse cx="435" cy="725" rx="24" ry="36" stroke="#777" stroke-width="1.1" fill="none" vector-effect="non-scaling-stroke" transform="rotate(25 435 725)"/>
<ellipse cx="436" cy="725" rx="17" ry="28" stroke="#999" stroke-width="0.9" fill="none" vector-effect="non-scaling-stroke" transform="rotate(25 436 725)"/>
<path d="M550 300 L800 240 L806 330 L560 386 Z" stroke="#444" stroke-width="1.6" fill="#fff" vector-effect="non-scaling-stroke"/>
<path d="M560 308 L792 252 L797 322 L568 374 Z" stroke="#666" stroke-width="1" fill="#ddd" vector-effect="non-scaling-stroke"/>
</g>
<text x="0" y="0" font-size="12.6" font-style="italic" transform="translate(773 682.5) rotate(-13.5) scale(1 1.45)" style="fill:#fff;stroke:#222;stroke-width:0.9;paint-order:stroke fill">DEWALT</text>
<g transform="translate(610 600) scale(0.24000)">
<path d="M815 205 Q815 195 830 195 L890 192 Q905 195 906 210 L910 290 Q905 305 890 310 L840 328 Q822 325 820 305 Z" stroke="#444" stroke-width="1.6" fill="#fff" vector-effect="non-scaling-stroke"/>
<path d="M830 215 L850 210 L855 235 L890 225 M830 300 Q870 290 895 270 M850 210 L870 200 L880 215" stroke="#555" stroke-width="1.1" fill="none" vector-effect="non-scaling-stroke"/>
</g>
<g transform="translate(750 600) scale(0.25)">
<path d="M470 235 Q465 310 400 360 Q300 420 240 450 Q190 500 110 470" stroke="#444" stroke-width="3.4" fill="none" vector-effect="non-scaling-stroke"/>
<path d="M470 235 Q465 310 400 360 Q300 420 240 450 Q190 500 110 470" stroke="#fff" stroke-width="1.4" fill="none" vector-effect="non-scaling-stroke"/>
<path d="M600 250 Q610 330 530 410 Q440 470 380 500 Q320 560 240 520" stroke="#444" stroke-width="3.4" fill="none" vector-effect="non-scaling-stroke"/>
<path d="M600 250 Q610 330 530 410 Q440 470 380 500 Q320 560 240 520" stroke="#fff" stroke-width="1.4" fill="none" vector-effect="non-scaling-stroke"/>
<path d="M65 440 L102 450 L85 492 L70 488 L78 468 L68 465 L54 498 L40 490 Z" stroke="#2a2a2a" stroke-width="1.6" fill="#fff" vector-effect="non-scaling-stroke"/>
<path d="M200 490 L237 500 L220 542 L205 538 L213 518 L203 515 L189 548 L175 540 Z" stroke="#2a2a2a" stroke-width="1.6" fill="#fff" vector-effect="non-scaling-stroke"/>
</g>
<g transform="translate(840 630) scale(0.16)">
<path d="M60 110 L230 75 L440 130 L600 150 L610 190 L570 230 L440 255 L430 225 L250 220 L100 180 L60 150 Z" stroke="#555" stroke-width="1.1" fill="#fff" vector-effect="non-scaling-stroke"/>
<path d="M60 110 L100 140 L250 175 L430 190 L440 130 M100 140 L100 180 M250 175 L250 220 M430 190 L430 225 M440 165 L600 170 M445 200 L575 205 M450 235 L560 215" stroke="#666" stroke-width="1" fill="none" vector-effect="non-scaling-stroke"/>
<path d="M110 100 L140 120 L150 150 M170 90 L200 110 L205 160 M230 100 L260 125 L262 170 M300 110 L330 135 L335 180 M360 120 L390 145 L392 185 M210 120 L300 135 M120 125 L200 140 M330 150 L420 160" stroke="#444" stroke-width="1.3" fill="none" vector-effect="non-scaling-stroke"/>
<path d="M200 170 L240 180 L238 200 L205 195 Z M320 160 L370 170 L372 200 L325 195 Z" stroke="#444" stroke-width="1.2" fill="#888" vector-effect="non-scaling-stroke"/>
<path d="M70 115 L100 150 M90 105 L130 140 L132 175 M150 95 L180 125 L183 190 M260 100 L290 130 L292 200 M340 118 L365 140 L368 205 M400 130 L420 150 L422 215 M110 150 L250 185 L430 200 M75 135 L95 165 M140 130 L250 150 L420 172" stroke="#555" stroke-width="1.2" fill="none" vector-effect="non-scaling-stroke"/>
<path d="M105 120 L135 112 L160 125 L130 135 Z M215 100 L250 92 L280 108 L245 118 Z M330 125 L365 118 L395 135 L360 143 Z" stroke="#444" stroke-width="1.1" fill="#999" vector-effect="non-scaling-stroke"/>
</g>
<text x="29.5" y="220" font-size="12.5">800</text>
<text x="149" y="261" font-size="14.4">104</text>
<text x="175" y="238" font-size="14.4">105</text>
<text x="207" y="251" font-size="14.4">106</text>
<text x="243" y="236" font-size="14.4">102</text>
<text x="96.5" y="266" font-size="14.4">103</text>
<text x="57.5" y="281" font-size="14.4">102</text>
<text x="22" y="303" font-size="14.4">101</text>
<text x="231" y="327.5" font-size="14.4">108</text>
<text x="359" y="209" font-size="14.4">109</text>
<text x="484" y="237" font-size="14.4">300</text>
<text x="134" y="420" font-size="14.4">170</text>
<text x="19" y="487" font-size="14.4">160</text>
<text x="172" y="518" font-size="14.4">818</text>
<text x="86" y="603" font-size="14.4">150</text>
<text x="133" y="619" font-size="14.4">151</text>
<text x="78" y="655" font-size="14.4">152</text>
<text x="24" y="698" font-size="14.4">143</text>
<text x="138" y="720" font-size="14.4">137</text>
<text x="206" y="738" font-size="14.4">870</text>
<text x="276.5" y="734.5" font-size="14.4">866</text>
<text x="257" y="658" font-size="14.4">144</text>
<text x="375" y="776" font-size="14.4">121</text>
<text x="351" y="351" font-size="14.4">111</text>
<text x="415" y="454" font-size="14.4">114</text>
<text x="449" y="467.5" font-size="14.4">115</text>
<text x="397" y="481" font-size="14.4">113</text>
<text x="354.5" y="562" font-size="14.4">112</text>
<text x="418" y="585" font-size="14.4">116</text>
<text x="257.5" y="377.5" font-size="14.4">110</text>
<text x="649" y="233" font-size="14.4">122</text>
<text x="725" y="247.5" font-size="14.4">126</text>
<text x="592" y="287.5" font-size="14.4">123</text>
<text x="591" y="365.5" font-size="14.4">124</text>
<text x="617" y="475" font-size="14.4">125</text>
<text x="657" y="517.5" font-size="14.4">145</text>
<text x="729" y="540.5" font-size="14.4">146</text>
<text x="729.5" y="596" font-size="14.4">148</text>
<text x="828" y="490.5" font-size="14.4">147</text>
<text x="869" y="427" font-size="14.4">821</text>
<text x="841.5" y="568" font-size="14.4">145</text>
<text x="913" y="615" font-size="14.4">131</text>
<text x="966.5" y="603" font-size="14.4">132</text>
<text x="802" y="205.5" font-size="14.4">127</text>
<text x="854" y="240" font-size="14.4">128</text>
<text x="910.5" y="367" font-size="14.4">140</text>
<text x="967.5" y="389" font-size="14.4">129</text>
<text x="838.5" y="377.5" font-size="14.4">121</text>
<text x="496.5" y="734.5" font-size="14.4">141</text>
<text x="541.5" y="727" font-size="14.4">142</text>
<text x="564" y="774" font-size="14.4">120</text>
<text x="970" y="670" font-size="14.4">149</text>
<text x="939.5" y="738" font-size="14.4">861</text>
<line x1="40" y1="217" x2="58" y2="217" stroke="#222" stroke-width="1.1"/>
<line x1="149.5" y1="263" x2="149.5" y2="279" stroke="#222" stroke-width="1.1"/>
<line x1="175" y1="240" x2="175" y2="277.5" stroke="#222" stroke-width="1.1"/>
<line x1="208" y1="253" x2="208" y2="267.5" stroke="#222" stroke-width="1.1"/>
<line x1="245.5" y1="238" x2="245.5" y2="267.5" stroke="#222" stroke-width="1.1"/>
<line x1="98" y1="268" x2="98" y2="285" stroke="#222" stroke-width="1.1"/>
<line x1="58" y1="283" x2="58" y2="316" stroke="#222" stroke-width="1.1"/>
<line x1="22.5" y1="305" x2="22.5" y2="320" stroke="#222" stroke-width="1.1"/>
<line x1="243" y1="323.5" x2="262" y2="323.5" stroke="#222" stroke-width="1.1"/>
<line x1="358" y1="211" x2="358" y2="229" stroke="#222" stroke-width="1.1"/>
<line x1="100" y1="415" x2="121" y2="415" stroke="#222" stroke-width="1.1"/>
<line x1="19" y1="452" x2="19" y2="475" stroke="#222" stroke-width="1.1"/>
<line x1="175" y1="521" x2="175" y2="546" stroke="#222" stroke-width="1.1"/>
<line x1="84.5" y1="605" x2="84.5" y2="614.5" stroke="#222" stroke-width="1.1"/>
<line x1="132.5" y1="621" x2="132.5" y2="627.5" stroke="#222" stroke-width="1.1"/>
<line x1="75" y1="657" x2="75" y2="671" stroke="#222" stroke-width="1.1"/>
<line x1="21" y1="700" x2="21" y2="714" stroke="#222" stroke-width="1.1"/>
<line x1="132.5" y1="694" x2="132.5" y2="708" stroke="#222" stroke-width="1.1"/>
<line x1="206" y1="740" x2="206" y2="756" stroke="#222" stroke-width="1.1"/>
<line x1="276" y1="737" x2="276" y2="755" stroke="#222" stroke-width="1.1"/>
<line x1="251" y1="639" x2="251" y2="648" stroke="#222" stroke-width="1.1"/>
<line x1="378" y1="745" x2="378" y2="762.5" stroke="#222" stroke-width="1.1"/>
<line x1="351" y1="353" x2="351" y2="370" stroke="#222" stroke-width="1.1"/>
<line x1="418" y1="456" x2="418" y2="489" stroke="#222" stroke-width="1.1"/>
<line x1="440.5" y1="470" x2="440.5" y2="484" stroke="#222" stroke-width="1.1"/>
<line x1="395" y1="483" x2="395" y2="499" stroke="#222" stroke-width="1.1"/>
<line x1="354" y1="532.5" x2="354" y2="550" stroke="#222" stroke-width="1.1"/>
<line x1="416" y1="558" x2="416" y2="572" stroke="#222" stroke-width="1.1"/>
<line x1="257" y1="380" x2="257" y2="400" stroke="#222" stroke-width="1.1"/>
<line x1="649" y1="235" x2="649" y2="251" stroke="#222" stroke-width="1.1"/>
<line x1="724.5" y1="250" x2="724.5" y2="265.5" stroke="#222" stroke-width="1.1"/>
<line x1="592.5" y1="289" x2="592.5" y2="302.5" stroke="#222" stroke-width="1.1"/>
<line x1="575" y1="339" x2="585" y2="352.5" stroke="#222" stroke-width="1.1"/>
<line x1="602.5" y1="354.5" x2="616" y2="343" stroke="#222" stroke-width="1.1"/>
<line x1="614" y1="447.5" x2="614" y2="463" stroke="#222" stroke-width="1.1"/>
<line x1="671" y1="511" x2="692.5" y2="511" stroke="#222" stroke-width="1.1"/>
<line x1="742" y1="536" x2="764" y2="536" stroke="#222" stroke-width="1.1"/>
<line x1="743" y1="590" x2="767.5" y2="590" stroke="#222" stroke-width="1.1"/>
<line x1="791" y1="486" x2="815" y2="486" stroke="#222" stroke-width="1.1"/>
<line x1="839" y1="423" x2="855" y2="423" stroke="#222" stroke-width="1.1"/>
<line x1="842" y1="541" x2="842" y2="555" stroke="#222" stroke-width="1.1"/>
<line x1="916" y1="581" x2="916" y2="602" stroke="#222" stroke-width="1.1"/>
<line x1="964" y1="571" x2="964" y2="590" stroke="#222" stroke-width="1.1"/>
<line x1="800" y1="208" x2="800" y2="225" stroke="#222" stroke-width="1.1"/>
<line x1="854" y1="242" x2="854" y2="256" stroke="#222" stroke-width="1.1"/>
<line x1="908" y1="340" x2="908" y2="355" stroke="#222" stroke-width="1.1"/>
<line x1="965" y1="359" x2="965" y2="377" stroke="#222" stroke-width="1.1"/>
<line x1="839" y1="380" x2="839" y2="394" stroke="#222" stroke-width="1.1"/>
<line x1="499.5" y1="704.5" x2="499.5" y2="722" stroke="#222" stroke-width="1.1"/>
<line x1="534" y1="696" x2="534" y2="715" stroke="#222" stroke-width="1.1"/>
<line x1="474" y1="767" x2="550" y2="767" stroke="#222" stroke-width="1.1"/>
<line x1="578" y1="767" x2="636" y2="767" stroke="#222" stroke-width="1.1"/>
<line x1="936" y1="664.5" x2="957" y2="664.5" stroke="#222" stroke-width="1.1"/>
<line x1="936" y1="740" x2="936" y2="756" stroke="#222" stroke-width="1.1"/>
<line x1="101" y1="232" x2="133" y2="252" stroke="#1a1a1a" stroke-width="1.6"/>
<path d="M136 254 L127.5 252.5 L131 246.5 Z" stroke="#1a1a1a" stroke-width="0.5" fill="#1a1a1a" />
<line x1="207" y1="536" x2="249" y2="458" stroke="#1a1a1a" stroke-width="1.5"/>
<path d="M251.5 454 L250.5 462.5 L244.5 459 Z" stroke="#1a1a1a" stroke-width="0.5" fill="#1a1a1a" />
</g>
</svg>
</body></html>
